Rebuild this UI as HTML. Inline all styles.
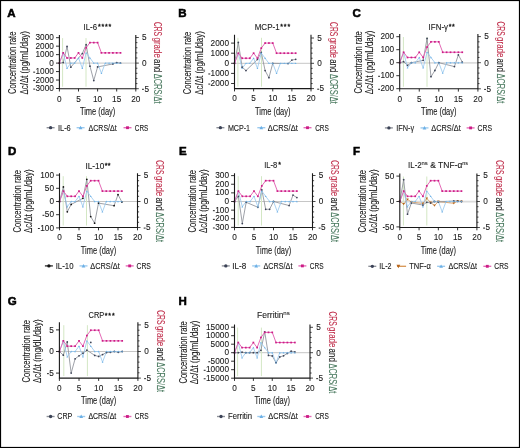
<!DOCTYPE html>
<html><head><meta charset="utf-8"><style>
html,body{margin:0;padding:0;background:#fff;}
body{width:520px;height:448px;overflow:hidden;}
svg{display:block;font-family:"Liberation Sans", sans-serif;will-change:transform;}
</style></head><body>
<svg width="520" height="448" viewBox="0 0 520 448">
<rect x="0" y="0" width="520" height="448" fill="#fff"/>
<g><text x="7.3" y="16.5" font-size="11.5" font-weight="bold" fill="#000" stroke="#000" stroke-width="0.55">A</text><line x1="59.4" y1="63.1" x2="135.8" y2="63.1" stroke="#c6c6c6" stroke-width="1.0"/><line x1="62.6" y1="38.1" x2="62.6" y2="86.7" stroke="#d3e7c4" stroke-width="1.0"/><line x1="86" y1="38.1" x2="86" y2="86.7" stroke="#d3e7c4" stroke-width="1.0"/><polyline points="59.4,63.1 63.22,62.59 67.04,46.5 70.86,67.17 82.32,53.53 86.14,44.64 89.96,66.15 93.78,80.55 97.6,66.91 112.88,63.95 116.7,62.59 120.52,63.1" fill="none" stroke="#8d9098" stroke-width="0.85" stroke-linejoin="round"/><polyline points="59.4,63.1 63.22,52.86 67.04,68.22 70.86,63.1 74.68,63.1 78.5,57.98 82.32,68.22 86.14,52.86 89.96,57.98 93.78,63.1 97.6,63.1 101.42,73.34 105.24,63.1 109.06,63.1 112.88,63.1 116.7,63.1 120.52,63.1" fill="none" stroke="#9ccaee" stroke-width="0.85" stroke-linejoin="round"/><polyline points="59.4,63.1 63.22,52.86 67.04,57.98 70.86,57.98 74.68,57.98 78.5,52.86 82.32,57.98 86.14,47.74 89.96,42.62 93.78,42.62 97.6,42.62 101.42,52.86 105.24,52.86 109.06,52.86 112.88,52.86 116.7,52.86 120.52,52.86" fill="none" stroke="#e46ab6" stroke-width="1" stroke-linejoin="round"/><circle cx="59.4" cy="63.1" r="0.88" fill="#3c4357"/><circle cx="63.22" cy="62.59" r="0.88" fill="#3c4357"/><circle cx="67.04" cy="46.5" r="0.88" fill="#3c4357"/><circle cx="70.86" cy="67.17" r="0.88" fill="#3c4357"/><circle cx="82.32" cy="53.53" r="0.88" fill="#3c4357"/><circle cx="86.14" cy="44.64" r="0.88" fill="#3c4357"/><circle cx="89.96" cy="66.15" r="0.88" fill="#3c4357"/><circle cx="93.78" cy="80.55" r="0.88" fill="#3c4357"/><circle cx="97.6" cy="66.91" r="0.88" fill="#3c4357"/><circle cx="112.88" cy="63.95" r="0.88" fill="#3c4357"/><circle cx="116.7" cy="62.59" r="0.88" fill="#3c4357"/><circle cx="120.52" cy="63.1" r="0.88" fill="#3c4357"/><path d="M59.4 62.23L60.27 63.8L58.52 63.8Z" fill="#6cb0e6"/><path d="M63.22 51.98L64.09 53.56L62.34 53.56Z" fill="#6cb0e6"/><path d="M67.04 67.34L67.91 68.92L66.16 68.92Z" fill="#6cb0e6"/><path d="M70.86 62.23L71.73 63.8L69.98 63.8Z" fill="#6cb0e6"/><path d="M74.68 62.23L75.56 63.8L73.81 63.8Z" fill="#6cb0e6"/><path d="M78.5 57.11L79.38 58.68L77.62 58.68Z" fill="#6cb0e6"/><path d="M82.32 67.34L83.19 68.92L81.44 68.92Z" fill="#6cb0e6"/><path d="M86.14 51.98L87.02 53.56L85.27 53.56Z" fill="#6cb0e6"/><path d="M89.96 57.11L90.84 58.68L89.09 58.68Z" fill="#6cb0e6"/><path d="M93.78 62.23L94.66 63.8L92.91 63.8Z" fill="#6cb0e6"/><path d="M97.6 62.23L98.47 63.8L96.72 63.8Z" fill="#6cb0e6"/><path d="M101.42 72.47L102.3 74.04L100.55 74.04Z" fill="#6cb0e6"/><path d="M105.24 62.23L106.12 63.8L104.37 63.8Z" fill="#6cb0e6"/><path d="M109.06 62.23L109.94 63.8L108.19 63.8Z" fill="#6cb0e6"/><path d="M112.88 62.23L113.75 63.8L112 63.8Z" fill="#6cb0e6"/><path d="M116.7 62.23L117.58 63.8L115.83 63.8Z" fill="#6cb0e6"/><path d="M120.52 62.23L121.4 63.8L119.65 63.8Z" fill="#6cb0e6"/><rect x="58.55" y="62.25" width="1.71" height="1.71" fill="#cc1c86"/><rect x="62.37" y="52.01" width="1.71" height="1.71" fill="#cc1c86"/><rect x="66.18" y="57.13" width="1.71" height="1.71" fill="#cc1c86"/><rect x="70" y="57.13" width="1.71" height="1.71" fill="#cc1c86"/><rect x="73.83" y="57.13" width="1.71" height="1.71" fill="#cc1c86"/><rect x="77.64" y="52.01" width="1.71" height="1.71" fill="#cc1c86"/><rect x="81.46" y="57.13" width="1.71" height="1.71" fill="#cc1c86"/><rect x="85.28" y="46.89" width="1.71" height="1.71" fill="#cc1c86"/><rect x="89.11" y="41.77" width="1.71" height="1.71" fill="#cc1c86"/><rect x="92.92" y="41.77" width="1.71" height="1.71" fill="#cc1c86"/><rect x="96.74" y="41.77" width="1.71" height="1.71" fill="#cc1c86"/><rect x="100.56" y="52.01" width="1.71" height="1.71" fill="#cc1c86"/><rect x="104.39" y="52.01" width="1.71" height="1.71" fill="#cc1c86"/><rect x="108.2" y="52.01" width="1.71" height="1.71" fill="#cc1c86"/><rect x="112.02" y="52.01" width="1.71" height="1.71" fill="#cc1c86"/><rect x="115.84" y="52.01" width="1.71" height="1.71" fill="#cc1c86"/><rect x="119.67" y="52.01" width="1.71" height="1.71" fill="#cc1c86"/><path d="M59.4 35.1V88.7H135.8V35.1" fill="none" stroke="#1a1a1a" stroke-width="1.1"/><line x1="56" y1="37.69" x2="59.4" y2="37.69" stroke="#1a1a1a" stroke-width="0.9"/><text x="53.9" y="40.29" font-size="9.5" text-anchor="end" textLength="18.38" lengthAdjust="spacingAndGlyphs" fill="#1a1a1a" stroke="#1a1a1a" stroke-width="0.1">3000</text><line x1="56" y1="46.16" x2="59.4" y2="46.16" stroke="#1a1a1a" stroke-width="0.9"/><text x="53.9" y="48.76" font-size="9.5" text-anchor="end" textLength="18.38" lengthAdjust="spacingAndGlyphs" fill="#1a1a1a" stroke="#1a1a1a" stroke-width="0.1">2000</text><line x1="56" y1="54.63" x2="59.4" y2="54.63" stroke="#1a1a1a" stroke-width="0.9"/><text x="53.9" y="57.23" font-size="9.5" text-anchor="end" textLength="18.38" lengthAdjust="spacingAndGlyphs" fill="#1a1a1a" stroke="#1a1a1a" stroke-width="0.1">1000</text><line x1="56" y1="63.1" x2="59.4" y2="63.1" stroke="#1a1a1a" stroke-width="0.9"/><text x="53.9" y="65.7" font-size="9.5" text-anchor="end" textLength="4.6" lengthAdjust="spacingAndGlyphs" fill="#1a1a1a" stroke="#1a1a1a" stroke-width="0.1">0</text><line x1="56" y1="71.57" x2="59.4" y2="71.57" stroke="#1a1a1a" stroke-width="0.9"/><text x="53.9" y="74.17" font-size="9.5" text-anchor="end" textLength="18.38" lengthAdjust="spacingAndGlyphs" fill="#1a1a1a" stroke="#1a1a1a" stroke-width="0.1">1000</text><rect x="33.22" y="71.67" width="1.9" height="0.95" fill="#1a1a1a"/><line x1="56" y1="80.04" x2="59.4" y2="80.04" stroke="#1a1a1a" stroke-width="0.9"/><text x="53.9" y="82.64" font-size="9.5" text-anchor="end" textLength="18.38" lengthAdjust="spacingAndGlyphs" fill="#1a1a1a" stroke="#1a1a1a" stroke-width="0.1">2000</text><rect x="33.22" y="80.14" width="1.9" height="0.95" fill="#1a1a1a"/><line x1="56" y1="88.51" x2="59.4" y2="88.51" stroke="#1a1a1a" stroke-width="0.9"/><text x="53.9" y="91.11" font-size="9.5" text-anchor="end" textLength="18.38" lengthAdjust="spacingAndGlyphs" fill="#1a1a1a" stroke="#1a1a1a" stroke-width="0.1">3000</text><rect x="33.22" y="88.61" width="1.9" height="0.95" fill="#1a1a1a"/><line x1="59.4" y1="88.7" x2="59.4" y2="91.5" stroke="#1a1a1a" stroke-width="0.9"/><text x="59.4" y="101.5" font-size="9.5" text-anchor="middle" textLength="4.6" lengthAdjust="spacingAndGlyphs" fill="#1a1a1a" stroke="#1a1a1a" stroke-width="0.1">0</text><line x1="78.5" y1="88.7" x2="78.5" y2="91.5" stroke="#1a1a1a" stroke-width="0.9"/><text x="78.5" y="101.5" font-size="9.5" text-anchor="middle" textLength="4.6" lengthAdjust="spacingAndGlyphs" fill="#1a1a1a" stroke="#1a1a1a" stroke-width="0.1">5</text><line x1="97.6" y1="88.7" x2="97.6" y2="91.5" stroke="#1a1a1a" stroke-width="0.9"/><text x="97.6" y="101.5" font-size="9.5" text-anchor="middle" textLength="9.19" lengthAdjust="spacingAndGlyphs" fill="#1a1a1a" stroke="#1a1a1a" stroke-width="0.1">10</text><line x1="116.7" y1="88.7" x2="116.7" y2="91.5" stroke="#1a1a1a" stroke-width="0.9"/><text x="116.7" y="101.5" font-size="9.5" text-anchor="middle" textLength="9.19" lengthAdjust="spacingAndGlyphs" fill="#1a1a1a" stroke="#1a1a1a" stroke-width="0.1">15</text><line x1="135.8" y1="88.7" x2="135.8" y2="91.5" stroke="#1a1a1a" stroke-width="0.9"/><text x="135.8" y="101.5" font-size="9.5" text-anchor="middle" textLength="9.19" lengthAdjust="spacingAndGlyphs" fill="#1a1a1a" stroke="#1a1a1a" stroke-width="0.1">20</text><line x1="135.8" y1="88.7" x2="138.8" y2="88.7" stroke="#1a1a1a" stroke-width="0.8"/><rect x="142" y="88.8" width="1.9" height="0.95" fill="#1a1a1a"/><text x="144.4" y="91.5" font-size="9.5" textLength="4.6" lengthAdjust="spacingAndGlyphs" fill="#1a1a1a" stroke="#1a1a1a" stroke-width="0.1">5</text><line x1="135.8" y1="83.58" x2="137.4" y2="83.58" stroke="#1a1a1a" stroke-width="0.8"/><line x1="135.8" y1="78.46" x2="137.4" y2="78.46" stroke="#1a1a1a" stroke-width="0.8"/><line x1="135.8" y1="73.34" x2="137.4" y2="73.34" stroke="#1a1a1a" stroke-width="0.8"/><line x1="135.8" y1="68.22" x2="137.4" y2="68.22" stroke="#1a1a1a" stroke-width="0.8"/><line x1="135.8" y1="63.1" x2="138.8" y2="63.1" stroke="#1a1a1a" stroke-width="0.8"/><text x="142.1" y="65.9" font-size="9.5" textLength="4.6" lengthAdjust="spacingAndGlyphs" fill="#1a1a1a" stroke="#1a1a1a" stroke-width="0.1">0</text><line x1="135.8" y1="57.98" x2="137.4" y2="57.98" stroke="#1a1a1a" stroke-width="0.8"/><line x1="135.8" y1="52.86" x2="137.4" y2="52.86" stroke="#1a1a1a" stroke-width="0.8"/><line x1="135.8" y1="47.74" x2="137.4" y2="47.74" stroke="#1a1a1a" stroke-width="0.8"/><line x1="135.8" y1="42.62" x2="137.4" y2="42.62" stroke="#1a1a1a" stroke-width="0.8"/><line x1="135.8" y1="37.5" x2="138.8" y2="37.5" stroke="#1a1a1a" stroke-width="0.8"/><text x="142.1" y="40.3" font-size="9.5" textLength="4.6" lengthAdjust="spacingAndGlyphs" fill="#1a1a1a" stroke="#1a1a1a" stroke-width="0.1">5</text><text x="97.6" y="115" font-size="10.6" text-anchor="middle" textLength="35.4" lengthAdjust="spacingAndGlyphs" fill="#1a1a1a" stroke="#1a1a1a" stroke-width="0.1">Time (day)</text><text x="83.5" y="29.7" font-size="8.8" textLength="13.5" lengthAdjust="spacingAndGlyphs" fill="#1a1a1a" stroke="#1a1a1a" stroke-width="0.1">IL-6</text><text x="99.25" y="29.25" font-size="7" text-anchor="middle" fill="#1a1a1a" stroke="#1a1a1a" stroke-width="0.35">*</text><text x="102.75" y="29.25" font-size="7" text-anchor="middle" fill="#1a1a1a" stroke="#1a1a1a" stroke-width="0.35">*</text><text x="106.25" y="29.25" font-size="7" text-anchor="middle" fill="#1a1a1a" stroke="#1a1a1a" stroke-width="0.35">*</text><text x="109.75" y="29.25" font-size="7" text-anchor="middle" fill="#1a1a1a" stroke="#1a1a1a" stroke-width="0.35">*</text><text transform="translate(15.9,62.8) rotate(-90)" x="0" y="0" font-size="10" text-anchor="middle" fill="#1a1a1a" stroke="#1a1a1a" stroke-width="0.1" textLength="62.4" lengthAdjust="spacingAndGlyphs">Concentration rate</text><text transform="translate(27.8,62.8) rotate(-90)" x="0" y="0" font-size="10" text-anchor="middle" fill="#1a1a1a" stroke="#1a1a1a" stroke-width="0.1" textLength="63.6" lengthAdjust="spacingAndGlyphs">Δc/Δt (pg/mL/day)</text><text transform="translate(154.4,21.9) rotate(90)" x="0" y="0" font-size="10" fill="#c2334f" stroke="#c2334f" stroke-width="0.1" textLength="14.1" lengthAdjust="spacingAndGlyphs">CRS</text><text transform="translate(154.4,37.5) rotate(90)" x="0" y="0" font-size="10" fill="#c2334f" stroke="#c2334f" stroke-width="0.1" textLength="20.3" lengthAdjust="spacingAndGlyphs">grade</text><text transform="translate(154.4,59) rotate(90)" x="0" y="0" font-size="10" fill="#1a1a1a" stroke="#1a1a1a" stroke-width="0.1" textLength="13.2" lengthAdjust="spacingAndGlyphs">and</text><text transform="translate(154.4,73.8) rotate(90)" x="0" y="0" font-size="10" fill="#4d7c62" stroke="#4d7c62" stroke-width="0.1" textLength="29.85" lengthAdjust="spacingAndGlyphs">ΔCRS/Δt</text><line x1="46.6" y1="127.7" x2="54.6" y2="127.7" stroke="#8d9098" stroke-width="1.35"/><circle cx="50.6" cy="127.7" r="1.67" fill="#3c4357"/><text x="57.9" y="130.6" font-size="8.4" textLength="12.9" lengthAdjust="spacingAndGlyphs" fill="#1a1a1a" stroke="#1a1a1a" stroke-width="0.1">IL-6</text><line x1="76.6" y1="127.7" x2="84.6" y2="127.7" stroke="#9ccaee" stroke-width="1.35"/><path d="M80.6 125.83L82.47 129.2L78.72 129.2Z" fill="#6cb0e6"/><text x="88.5" y="130.6" font-size="8.4" textLength="28.2" lengthAdjust="spacingAndGlyphs" fill="#1a1a1a" stroke="#1a1a1a" stroke-width="0.1">ΔCRS/Δt</text><line x1="123.5" y1="127.7" x2="131.5" y2="127.7" stroke="#e46ab6" stroke-width="1.35"/><rect x="126.08" y="126.28" width="2.85" height="2.85" fill="#cc1c86"/><text x="134.8" y="130.6" font-size="8.4" textLength="13.5" lengthAdjust="spacingAndGlyphs" fill="#1a1a1a" stroke="#1a1a1a" stroke-width="0.1">CRS</text></g>
<g><text x="178.3" y="16.8" font-size="11.5" font-weight="bold" fill="#000" stroke="#000" stroke-width="0.55">B</text><line x1="234.5" y1="63.3" x2="311" y2="63.3" stroke="#c6c6c6" stroke-width="1.0"/><line x1="237.9" y1="37.8" x2="237.9" y2="86.6" stroke="#d3e7c4" stroke-width="1.0"/><line x1="261.5" y1="37.8" x2="261.5" y2="86.6" stroke="#d3e7c4" stroke-width="1.0"/><polyline points="234.5,63.3 238.32,42.49 242.15,67.14 245.97,70.57 257.45,59.46 261.27,52.39 265.1,70.57 268.93,77.74 272.75,63.3 288.05,63.6 291.88,60.07 295.7,59.36" fill="none" stroke="#8d9098" stroke-width="0.85" stroke-linejoin="round"/><polyline points="234.5,63.3 238.32,53.18 242.15,68.36 245.97,63.3 249.8,63.3 253.62,58.24 257.45,68.36 261.27,53.18 265.1,58.24 268.93,63.3 272.75,63.3 276.57,73.42 280.4,63.3 284.23,63.3 288.05,63.3 291.88,63.3 295.7,63.3" fill="none" stroke="#9ccaee" stroke-width="0.85" stroke-linejoin="round"/><polyline points="234.5,63.3 238.32,53.18 242.15,58.24 245.97,58.24 249.8,58.24 253.62,53.18 257.45,58.24 261.27,48.12 265.1,43.06 268.93,43.06 272.75,43.06 276.57,53.18 280.4,53.18 284.23,53.18 288.05,53.18 291.88,53.18 295.7,53.18" fill="none" stroke="#e46ab6" stroke-width="1" stroke-linejoin="round"/><circle cx="234.5" cy="63.3" r="0.88" fill="#3c4357"/><circle cx="238.32" cy="42.49" r="0.88" fill="#3c4357"/><circle cx="242.15" cy="67.14" r="0.88" fill="#3c4357"/><circle cx="245.97" cy="70.57" r="0.88" fill="#3c4357"/><circle cx="257.45" cy="59.46" r="0.88" fill="#3c4357"/><circle cx="261.27" cy="52.39" r="0.88" fill="#3c4357"/><circle cx="265.1" cy="70.57" r="0.88" fill="#3c4357"/><circle cx="268.93" cy="77.74" r="0.88" fill="#3c4357"/><circle cx="272.75" cy="63.3" r="0.88" fill="#3c4357"/><circle cx="288.05" cy="63.6" r="0.88" fill="#3c4357"/><circle cx="291.88" cy="60.07" r="0.88" fill="#3c4357"/><circle cx="295.7" cy="59.36" r="0.88" fill="#3c4357"/><path d="M234.5 62.42L235.38 64L233.62 64Z" fill="#6cb0e6"/><path d="M238.32 52.3L239.2 53.88L237.45 53.88Z" fill="#6cb0e6"/><path d="M242.15 67.48L243.03 69.06L241.28 69.06Z" fill="#6cb0e6"/><path d="M245.97 62.42L246.85 64L245.1 64Z" fill="#6cb0e6"/><path d="M249.8 62.42L250.68 64L248.93 64Z" fill="#6cb0e6"/><path d="M253.62 57.36L254.5 58.94L252.75 58.94Z" fill="#6cb0e6"/><path d="M257.45 67.48L258.32 69.06L256.57 69.06Z" fill="#6cb0e6"/><path d="M261.27 52.3L262.15 53.88L260.4 53.88Z" fill="#6cb0e6"/><path d="M265.1 57.36L265.98 58.94L264.23 58.94Z" fill="#6cb0e6"/><path d="M268.93 62.42L269.8 64L268.05 64Z" fill="#6cb0e6"/><path d="M272.75 62.42L273.62 64L271.88 64Z" fill="#6cb0e6"/><path d="M276.57 72.55L277.45 74.12L275.7 74.12Z" fill="#6cb0e6"/><path d="M280.4 62.42L281.27 64L279.52 64Z" fill="#6cb0e6"/><path d="M284.23 62.42L285.1 64L283.35 64Z" fill="#6cb0e6"/><path d="M288.05 62.42L288.93 64L287.18 64Z" fill="#6cb0e6"/><path d="M291.88 62.42L292.75 64L291 64Z" fill="#6cb0e6"/><path d="M295.7 62.42L296.57 64L294.82 64Z" fill="#6cb0e6"/><rect x="233.65" y="62.45" width="1.71" height="1.71" fill="#cc1c86"/><rect x="237.47" y="52.33" width="1.71" height="1.71" fill="#cc1c86"/><rect x="241.3" y="57.38" width="1.71" height="1.71" fill="#cc1c86"/><rect x="245.12" y="57.38" width="1.71" height="1.71" fill="#cc1c86"/><rect x="248.95" y="57.38" width="1.71" height="1.71" fill="#cc1c86"/><rect x="252.77" y="52.33" width="1.71" height="1.71" fill="#cc1c86"/><rect x="256.59" y="57.38" width="1.71" height="1.71" fill="#cc1c86"/><rect x="260.42" y="47.27" width="1.71" height="1.71" fill="#cc1c86"/><rect x="264.25" y="42.21" width="1.71" height="1.71" fill="#cc1c86"/><rect x="268.07" y="42.21" width="1.71" height="1.71" fill="#cc1c86"/><rect x="271.89" y="42.21" width="1.71" height="1.71" fill="#cc1c86"/><rect x="275.72" y="52.33" width="1.71" height="1.71" fill="#cc1c86"/><rect x="279.54" y="52.33" width="1.71" height="1.71" fill="#cc1c86"/><rect x="283.37" y="52.33" width="1.71" height="1.71" fill="#cc1c86"/><rect x="287.19" y="52.33" width="1.71" height="1.71" fill="#cc1c86"/><rect x="291.02" y="52.33" width="1.71" height="1.71" fill="#cc1c86"/><rect x="294.84" y="52.33" width="1.71" height="1.71" fill="#cc1c86"/><path d="M234.5 34.8V88.6H311V34.8" fill="none" stroke="#1a1a1a" stroke-width="1.1"/><line x1="231.1" y1="43.1" x2="234.5" y2="43.1" stroke="#1a1a1a" stroke-width="0.9"/><text x="229" y="45.7" font-size="9.5" text-anchor="end" textLength="18.38" lengthAdjust="spacingAndGlyphs" fill="#1a1a1a" stroke="#1a1a1a" stroke-width="0.1">2000</text><line x1="231.1" y1="53.2" x2="234.5" y2="53.2" stroke="#1a1a1a" stroke-width="0.9"/><text x="229" y="55.8" font-size="9.5" text-anchor="end" textLength="18.38" lengthAdjust="spacingAndGlyphs" fill="#1a1a1a" stroke="#1a1a1a" stroke-width="0.1">1000</text><line x1="231.1" y1="63.3" x2="234.5" y2="63.3" stroke="#1a1a1a" stroke-width="0.9"/><text x="229" y="65.9" font-size="9.5" text-anchor="end" textLength="4.6" lengthAdjust="spacingAndGlyphs" fill="#1a1a1a" stroke="#1a1a1a" stroke-width="0.1">0</text><line x1="231.1" y1="73.4" x2="234.5" y2="73.4" stroke="#1a1a1a" stroke-width="0.9"/><text x="229" y="76" font-size="9.5" text-anchor="end" textLength="18.38" lengthAdjust="spacingAndGlyphs" fill="#1a1a1a" stroke="#1a1a1a" stroke-width="0.1">1000</text><rect x="208.32" y="73.5" width="1.9" height="0.95" fill="#1a1a1a"/><line x1="231.1" y1="83.5" x2="234.5" y2="83.5" stroke="#1a1a1a" stroke-width="0.9"/><text x="229" y="86.1" font-size="9.5" text-anchor="end" textLength="18.38" lengthAdjust="spacingAndGlyphs" fill="#1a1a1a" stroke="#1a1a1a" stroke-width="0.1">2000</text><rect x="208.32" y="83.6" width="1.9" height="0.95" fill="#1a1a1a"/><line x1="234.5" y1="88.6" x2="234.5" y2="91.4" stroke="#1a1a1a" stroke-width="0.9"/><text x="234.5" y="101.4" font-size="9.5" text-anchor="middle" textLength="4.6" lengthAdjust="spacingAndGlyphs" fill="#1a1a1a" stroke="#1a1a1a" stroke-width="0.1">0</text><line x1="253.62" y1="88.6" x2="253.62" y2="91.4" stroke="#1a1a1a" stroke-width="0.9"/><text x="253.62" y="101.4" font-size="9.5" text-anchor="middle" textLength="4.6" lengthAdjust="spacingAndGlyphs" fill="#1a1a1a" stroke="#1a1a1a" stroke-width="0.1">5</text><line x1="272.75" y1="88.6" x2="272.75" y2="91.4" stroke="#1a1a1a" stroke-width="0.9"/><text x="272.75" y="101.4" font-size="9.5" text-anchor="middle" textLength="9.19" lengthAdjust="spacingAndGlyphs" fill="#1a1a1a" stroke="#1a1a1a" stroke-width="0.1">10</text><line x1="291.88" y1="88.6" x2="291.88" y2="91.4" stroke="#1a1a1a" stroke-width="0.9"/><text x="291.88" y="101.4" font-size="9.5" text-anchor="middle" textLength="9.19" lengthAdjust="spacingAndGlyphs" fill="#1a1a1a" stroke="#1a1a1a" stroke-width="0.1">15</text><line x1="311" y1="88.6" x2="311" y2="91.4" stroke="#1a1a1a" stroke-width="0.9"/><text x="311" y="101.4" font-size="9.5" text-anchor="middle" textLength="9.19" lengthAdjust="spacingAndGlyphs" fill="#1a1a1a" stroke="#1a1a1a" stroke-width="0.1">20</text><line x1="311" y1="88.6" x2="314" y2="88.6" stroke="#1a1a1a" stroke-width="0.8"/><rect x="317.2" y="88.7" width="1.9" height="0.95" fill="#1a1a1a"/><text x="319.6" y="91.4" font-size="9.5" textLength="4.6" lengthAdjust="spacingAndGlyphs" fill="#1a1a1a" stroke="#1a1a1a" stroke-width="0.1">5</text><line x1="311" y1="83.54" x2="312.6" y2="83.54" stroke="#1a1a1a" stroke-width="0.8"/><line x1="311" y1="78.48" x2="312.6" y2="78.48" stroke="#1a1a1a" stroke-width="0.8"/><line x1="311" y1="73.42" x2="312.6" y2="73.42" stroke="#1a1a1a" stroke-width="0.8"/><line x1="311" y1="68.36" x2="312.6" y2="68.36" stroke="#1a1a1a" stroke-width="0.8"/><line x1="311" y1="63.3" x2="314" y2="63.3" stroke="#1a1a1a" stroke-width="0.8"/><text x="317.3" y="66.1" font-size="9.5" textLength="4.6" lengthAdjust="spacingAndGlyphs" fill="#1a1a1a" stroke="#1a1a1a" stroke-width="0.1">0</text><line x1="311" y1="58.24" x2="312.6" y2="58.24" stroke="#1a1a1a" stroke-width="0.8"/><line x1="311" y1="53.18" x2="312.6" y2="53.18" stroke="#1a1a1a" stroke-width="0.8"/><line x1="311" y1="48.12" x2="312.6" y2="48.12" stroke="#1a1a1a" stroke-width="0.8"/><line x1="311" y1="43.06" x2="312.6" y2="43.06" stroke="#1a1a1a" stroke-width="0.8"/><line x1="311" y1="38" x2="314" y2="38" stroke="#1a1a1a" stroke-width="0.8"/><text x="317.3" y="40.8" font-size="9.5" textLength="4.6" lengthAdjust="spacingAndGlyphs" fill="#1a1a1a" stroke="#1a1a1a" stroke-width="0.1">5</text><text x="272.75" y="114.9" font-size="10.6" text-anchor="middle" textLength="35.4" lengthAdjust="spacingAndGlyphs" fill="#1a1a1a" stroke="#1a1a1a" stroke-width="0.1">Time (day)</text><text x="254.7" y="29.7" font-size="8.8" textLength="24.9" lengthAdjust="spacingAndGlyphs" fill="#1a1a1a" stroke="#1a1a1a" stroke-width="0.1">MCP-1</text><text x="281.55" y="29.25" font-size="7" text-anchor="middle" fill="#1a1a1a" stroke="#1a1a1a" stroke-width="0.35">*</text><text x="285.15" y="29.25" font-size="7" text-anchor="middle" fill="#1a1a1a" stroke="#1a1a1a" stroke-width="0.35">*</text><text x="288.75" y="29.25" font-size="7" text-anchor="middle" fill="#1a1a1a" stroke="#1a1a1a" stroke-width="0.35">*</text><text transform="translate(190.9,63) rotate(-90)" x="0" y="0" font-size="10" text-anchor="middle" fill="#1a1a1a" stroke="#1a1a1a" stroke-width="0.1" textLength="62.4" lengthAdjust="spacingAndGlyphs">Concentration rate</text><text transform="translate(202.8,63) rotate(-90)" x="0" y="0" font-size="10" text-anchor="middle" fill="#1a1a1a" stroke="#1a1a1a" stroke-width="0.1" textLength="63.6" lengthAdjust="spacingAndGlyphs">Δc/Δt (pg/mL/day)</text><text transform="translate(329.6,22.1) rotate(90)" x="0" y="0" font-size="10" fill="#c2334f" stroke="#c2334f" stroke-width="0.1" textLength="14.1" lengthAdjust="spacingAndGlyphs">CRS</text><text transform="translate(329.6,37.7) rotate(90)" x="0" y="0" font-size="10" fill="#c2334f" stroke="#c2334f" stroke-width="0.1" textLength="20.3" lengthAdjust="spacingAndGlyphs">grade</text><text transform="translate(329.6,59.2) rotate(90)" x="0" y="0" font-size="10" fill="#1a1a1a" stroke="#1a1a1a" stroke-width="0.1" textLength="13.2" lengthAdjust="spacingAndGlyphs">and</text><text transform="translate(329.6,74) rotate(90)" x="0" y="0" font-size="10" fill="#4d7c62" stroke="#4d7c62" stroke-width="0.1" textLength="29.85" lengthAdjust="spacingAndGlyphs">ΔCRS/Δt</text><line x1="216.4" y1="127.7" x2="224.4" y2="127.7" stroke="#8d9098" stroke-width="1.35"/><circle cx="220.4" cy="127.7" r="1.67" fill="#3c4357"/><text x="227.9" y="130.6" font-size="8.4" textLength="22.2" lengthAdjust="spacingAndGlyphs" fill="#1a1a1a" stroke="#1a1a1a" stroke-width="0.1">MCP-1</text><line x1="257.3" y1="127.7" x2="265.3" y2="127.7" stroke="#9ccaee" stroke-width="1.35"/><path d="M261.3 125.83L263.18 129.2L259.43 129.2Z" fill="#6cb0e6"/><text x="267.7" y="130.6" font-size="8.4" textLength="30.1" lengthAdjust="spacingAndGlyphs" fill="#1a1a1a" stroke="#1a1a1a" stroke-width="0.1">ΔCRS/Δt</text><line x1="303.5" y1="127.7" x2="311.5" y2="127.7" stroke="#e46ab6" stroke-width="1.35"/><rect x="306.07" y="126.28" width="2.85" height="2.85" fill="#cc1c86"/><text x="315.2" y="130.6" font-size="8.4" textLength="13.7" lengthAdjust="spacingAndGlyphs" fill="#1a1a1a" stroke="#1a1a1a" stroke-width="0.1">CRS</text></g>
<g><text x="352.4" y="16.8" font-size="11.5" font-weight="bold" fill="#000" stroke="#000" stroke-width="0.55">C</text><line x1="399.7" y1="62.9" x2="477.9" y2="62.9" stroke="#dcdcdc" stroke-width="1.8"/><line x1="403.4" y1="37" x2="403.4" y2="86.8" stroke="#d3e7c4" stroke-width="1.0"/><line x1="427" y1="37" x2="427" y2="86.8" stroke="#d3e7c4" stroke-width="1.0"/><polyline points="399.7,62.7 403.61,61.66 407.52,65.3 411.43,62.7 423.16,60.36 427.07,38.39 430.98,76.74 434.89,70.5 438.8,62.7 454.44,66.6 458.35,54.9 462.26,62.05" fill="none" stroke="#8d9098" stroke-width="0.85" stroke-linejoin="round"/><polyline points="399.7,62.7 403.61,52.26 407.52,67.92 411.43,62.7 415.34,62.7 419.25,57.48 423.16,67.92 427.07,52.26 430.98,57.48 434.89,62.7 438.8,62.7 442.71,73.14 446.62,62.7 450.53,62.7 454.44,62.7 458.35,62.7 462.26,62.7" fill="none" stroke="#9ccaee" stroke-width="0.85" stroke-linejoin="round"/><polyline points="399.7,62.7 403.61,52.26 407.52,57.48 411.43,57.48 415.34,57.48 419.25,52.26 423.16,57.48 427.07,47.04 430.98,41.82 434.89,41.82 438.8,41.82 442.71,52.26 446.62,52.26 450.53,52.26 454.44,52.26 458.35,52.26 462.26,52.26" fill="none" stroke="#e46ab6" stroke-width="1" stroke-linejoin="round"/><circle cx="399.7" cy="62.7" r="0.88" fill="#3c4357"/><circle cx="403.61" cy="61.66" r="0.88" fill="#3c4357"/><circle cx="407.52" cy="65.3" r="0.88" fill="#3c4357"/><circle cx="411.43" cy="62.7" r="0.88" fill="#3c4357"/><circle cx="423.16" cy="60.36" r="0.88" fill="#3c4357"/><circle cx="427.07" cy="38.39" r="0.88" fill="#3c4357"/><circle cx="430.98" cy="76.74" r="0.88" fill="#3c4357"/><circle cx="434.89" cy="70.5" r="0.88" fill="#3c4357"/><circle cx="438.8" cy="62.7" r="0.88" fill="#3c4357"/><circle cx="454.44" cy="66.6" r="0.88" fill="#3c4357"/><circle cx="458.35" cy="54.9" r="0.88" fill="#3c4357"/><circle cx="462.26" cy="62.05" r="0.88" fill="#3c4357"/><path d="M399.7 61.83L400.57 63.4L398.82 63.4Z" fill="#6cb0e6"/><path d="M403.61 51.39L404.49 52.96L402.74 52.96Z" fill="#6cb0e6"/><path d="M407.52 67.05L408.39 68.62L406.64 68.62Z" fill="#6cb0e6"/><path d="M411.43 61.83L412.31 63.4L410.56 63.4Z" fill="#6cb0e6"/><path d="M415.34 61.83L416.21 63.4L414.46 63.4Z" fill="#6cb0e6"/><path d="M419.25 56.61L420.12 58.18L418.38 58.18Z" fill="#6cb0e6"/><path d="M423.16 67.05L424.03 68.62L422.28 68.62Z" fill="#6cb0e6"/><path d="M427.07 51.39L427.94 52.96L426.19 52.96Z" fill="#6cb0e6"/><path d="M430.98 56.61L431.85 58.18L430.1 58.18Z" fill="#6cb0e6"/><path d="M434.89 61.83L435.76 63.4L434.01 63.4Z" fill="#6cb0e6"/><path d="M438.8 61.83L439.67 63.4L437.92 63.4Z" fill="#6cb0e6"/><path d="M442.71 72.27L443.58 73.84L441.83 73.84Z" fill="#6cb0e6"/><path d="M446.62 61.83L447.5 63.4L445.75 63.4Z" fill="#6cb0e6"/><path d="M450.53 61.83L451.4 63.4L449.65 63.4Z" fill="#6cb0e6"/><path d="M454.44 61.83L455.31 63.4L453.56 63.4Z" fill="#6cb0e6"/><path d="M458.35 61.83L459.22 63.4L457.47 63.4Z" fill="#6cb0e6"/><path d="M462.26 61.83L463.13 63.4L461.38 63.4Z" fill="#6cb0e6"/><rect x="398.84" y="61.85" width="1.71" height="1.71" fill="#cc1c86"/><rect x="402.75" y="51.41" width="1.71" height="1.71" fill="#cc1c86"/><rect x="406.66" y="56.63" width="1.71" height="1.71" fill="#cc1c86"/><rect x="410.57" y="56.63" width="1.71" height="1.71" fill="#cc1c86"/><rect x="414.48" y="56.63" width="1.71" height="1.71" fill="#cc1c86"/><rect x="418.39" y="51.41" width="1.71" height="1.71" fill="#cc1c86"/><rect x="422.3" y="56.63" width="1.71" height="1.71" fill="#cc1c86"/><rect x="426.21" y="46.19" width="1.71" height="1.71" fill="#cc1c86"/><rect x="430.12" y="40.97" width="1.71" height="1.71" fill="#cc1c86"/><rect x="434.03" y="40.97" width="1.71" height="1.71" fill="#cc1c86"/><rect x="437.94" y="40.97" width="1.71" height="1.71" fill="#cc1c86"/><rect x="441.85" y="51.41" width="1.71" height="1.71" fill="#cc1c86"/><rect x="445.76" y="51.41" width="1.71" height="1.71" fill="#cc1c86"/><rect x="449.67" y="51.41" width="1.71" height="1.71" fill="#cc1c86"/><rect x="453.58" y="51.41" width="1.71" height="1.71" fill="#cc1c86"/><rect x="457.49" y="51.41" width="1.71" height="1.71" fill="#cc1c86"/><rect x="461.4" y="51.41" width="1.71" height="1.71" fill="#cc1c86"/><path d="M399.7 34V88.8H477.9V34" fill="none" stroke="#1a1a1a" stroke-width="1.1"/><line x1="396.3" y1="36.7" x2="399.7" y2="36.7" stroke="#1a1a1a" stroke-width="0.9"/><text x="394.2" y="39.3" font-size="9.5" text-anchor="end" textLength="13.79" lengthAdjust="spacingAndGlyphs" fill="#1a1a1a" stroke="#1a1a1a" stroke-width="0.1">200</text><line x1="396.3" y1="49.7" x2="399.7" y2="49.7" stroke="#1a1a1a" stroke-width="0.9"/><text x="394.2" y="52.3" font-size="9.5" text-anchor="end" textLength="13.79" lengthAdjust="spacingAndGlyphs" fill="#1a1a1a" stroke="#1a1a1a" stroke-width="0.1">100</text><line x1="396.3" y1="62.7" x2="399.7" y2="62.7" stroke="#1a1a1a" stroke-width="0.9"/><text x="394.2" y="65.3" font-size="9.5" text-anchor="end" textLength="4.6" lengthAdjust="spacingAndGlyphs" fill="#1a1a1a" stroke="#1a1a1a" stroke-width="0.1">0</text><line x1="396.3" y1="75.7" x2="399.7" y2="75.7" stroke="#1a1a1a" stroke-width="0.9"/><text x="394.2" y="78.3" font-size="9.5" text-anchor="end" textLength="13.79" lengthAdjust="spacingAndGlyphs" fill="#1a1a1a" stroke="#1a1a1a" stroke-width="0.1">100</text><rect x="378.11" y="75.8" width="1.9" height="0.95" fill="#1a1a1a"/><line x1="396.3" y1="88.7" x2="399.7" y2="88.7" stroke="#1a1a1a" stroke-width="0.9"/><text x="394.2" y="91.3" font-size="9.5" text-anchor="end" textLength="13.79" lengthAdjust="spacingAndGlyphs" fill="#1a1a1a" stroke="#1a1a1a" stroke-width="0.1">200</text><rect x="378.11" y="88.8" width="1.9" height="0.95" fill="#1a1a1a"/><line x1="399.7" y1="88.8" x2="399.7" y2="91.6" stroke="#1a1a1a" stroke-width="0.9"/><text x="399.7" y="101.6" font-size="9.5" text-anchor="middle" textLength="4.6" lengthAdjust="spacingAndGlyphs" fill="#1a1a1a" stroke="#1a1a1a" stroke-width="0.1">0</text><line x1="419.25" y1="88.8" x2="419.25" y2="91.6" stroke="#1a1a1a" stroke-width="0.9"/><text x="419.25" y="101.6" font-size="9.5" text-anchor="middle" textLength="4.6" lengthAdjust="spacingAndGlyphs" fill="#1a1a1a" stroke="#1a1a1a" stroke-width="0.1">5</text><line x1="438.8" y1="88.8" x2="438.8" y2="91.6" stroke="#1a1a1a" stroke-width="0.9"/><text x="438.8" y="101.6" font-size="9.5" text-anchor="middle" textLength="9.19" lengthAdjust="spacingAndGlyphs" fill="#1a1a1a" stroke="#1a1a1a" stroke-width="0.1">10</text><line x1="458.35" y1="88.8" x2="458.35" y2="91.6" stroke="#1a1a1a" stroke-width="0.9"/><text x="458.35" y="101.6" font-size="9.5" text-anchor="middle" textLength="9.19" lengthAdjust="spacingAndGlyphs" fill="#1a1a1a" stroke="#1a1a1a" stroke-width="0.1">15</text><line x1="477.9" y1="88.8" x2="477.9" y2="91.6" stroke="#1a1a1a" stroke-width="0.9"/><text x="477.9" y="101.6" font-size="9.5" text-anchor="middle" textLength="9.19" lengthAdjust="spacingAndGlyphs" fill="#1a1a1a" stroke="#1a1a1a" stroke-width="0.1">20</text><line x1="477.9" y1="88.8" x2="480.9" y2="88.8" stroke="#1a1a1a" stroke-width="0.8"/><rect x="484.1" y="88.9" width="1.9" height="0.95" fill="#1a1a1a"/><text x="486.5" y="91.6" font-size="9.5" textLength="4.6" lengthAdjust="spacingAndGlyphs" fill="#1a1a1a" stroke="#1a1a1a" stroke-width="0.1">5</text><line x1="477.9" y1="83.58" x2="479.5" y2="83.58" stroke="#1a1a1a" stroke-width="0.8"/><line x1="477.9" y1="78.36" x2="479.5" y2="78.36" stroke="#1a1a1a" stroke-width="0.8"/><line x1="477.9" y1="73.14" x2="479.5" y2="73.14" stroke="#1a1a1a" stroke-width="0.8"/><line x1="477.9" y1="67.92" x2="479.5" y2="67.92" stroke="#1a1a1a" stroke-width="0.8"/><line x1="477.9" y1="62.7" x2="480.9" y2="62.7" stroke="#1a1a1a" stroke-width="0.8"/><text x="484.2" y="65.5" font-size="9.5" textLength="4.6" lengthAdjust="spacingAndGlyphs" fill="#1a1a1a" stroke="#1a1a1a" stroke-width="0.1">0</text><line x1="477.9" y1="57.48" x2="479.5" y2="57.48" stroke="#1a1a1a" stroke-width="0.8"/><line x1="477.9" y1="52.26" x2="479.5" y2="52.26" stroke="#1a1a1a" stroke-width="0.8"/><line x1="477.9" y1="47.04" x2="479.5" y2="47.04" stroke="#1a1a1a" stroke-width="0.8"/><line x1="477.9" y1="41.82" x2="479.5" y2="41.82" stroke="#1a1a1a" stroke-width="0.8"/><line x1="477.9" y1="36.6" x2="480.9" y2="36.6" stroke="#1a1a1a" stroke-width="0.8"/><text x="484.2" y="39.4" font-size="9.5" textLength="4.6" lengthAdjust="spacingAndGlyphs" fill="#1a1a1a" stroke="#1a1a1a" stroke-width="0.1">5</text><text x="438.8" y="115.1" font-size="10.6" text-anchor="middle" textLength="35.4" lengthAdjust="spacingAndGlyphs" fill="#1a1a1a" stroke="#1a1a1a" stroke-width="0.1">Time (day)</text><text x="428.6" y="29.8" font-size="8.8" textLength="19.4" lengthAdjust="spacingAndGlyphs" fill="#1a1a1a" stroke="#1a1a1a" stroke-width="0.1">IFN-γ</text><text x="450.05" y="29.15" font-size="7" text-anchor="middle" fill="#1a1a1a" stroke="#1a1a1a" stroke-width="0.35">*</text><text x="453.35" y="29.15" font-size="7" text-anchor="middle" fill="#1a1a1a" stroke="#1a1a1a" stroke-width="0.35">*</text><text transform="translate(361.6,62.4) rotate(-90)" x="0" y="0" font-size="10" text-anchor="middle" fill="#1a1a1a" stroke="#1a1a1a" stroke-width="0.1" textLength="62.4" lengthAdjust="spacingAndGlyphs">Concentration rate</text><text transform="translate(372.8,62.4) rotate(-90)" x="0" y="0" font-size="10" text-anchor="middle" fill="#1a1a1a" stroke="#1a1a1a" stroke-width="0.1" textLength="63.6" lengthAdjust="spacingAndGlyphs">Δc/Δt (pg/mL/day)</text><text transform="translate(496.5,21.5) rotate(90)" x="0" y="0" font-size="10" fill="#c2334f" stroke="#c2334f" stroke-width="0.1" textLength="14.1" lengthAdjust="spacingAndGlyphs">CRS</text><text transform="translate(496.5,37.1) rotate(90)" x="0" y="0" font-size="10" fill="#c2334f" stroke="#c2334f" stroke-width="0.1" textLength="20.3" lengthAdjust="spacingAndGlyphs">grade</text><text transform="translate(496.5,58.6) rotate(90)" x="0" y="0" font-size="10" fill="#1a1a1a" stroke="#1a1a1a" stroke-width="0.1" textLength="13.2" lengthAdjust="spacingAndGlyphs">and</text><text transform="translate(496.5,73.4) rotate(90)" x="0" y="0" font-size="10" fill="#4d7c62" stroke="#4d7c62" stroke-width="0.1" textLength="29.85" lengthAdjust="spacingAndGlyphs">ΔCRS/Δt</text><line x1="384.9" y1="127.9" x2="392.9" y2="127.9" stroke="#8d9098" stroke-width="1.35"/><circle cx="388.9" cy="127.9" r="1.67" fill="#3c4357"/><text x="396.2" y="130.8" font-size="8.4" textLength="18" lengthAdjust="spacingAndGlyphs" fill="#1a1a1a" stroke="#1a1a1a" stroke-width="0.1">IFN-γ</text><line x1="420.5" y1="127.9" x2="428.5" y2="127.9" stroke="#9ccaee" stroke-width="1.35"/><path d="M424.5 126.03L426.38 129.4L422.62 129.4Z" fill="#6cb0e6"/><text x="431.3" y="130.8" font-size="8.4" textLength="29.5" lengthAdjust="spacingAndGlyphs" fill="#1a1a1a" stroke="#1a1a1a" stroke-width="0.1">ΔCRS/Δt</text><line x1="466.6" y1="127.9" x2="474.6" y2="127.9" stroke="#e46ab6" stroke-width="1.35"/><rect x="469.18" y="126.48" width="2.85" height="2.85" fill="#cc1c86"/><text x="477.5" y="130.8" font-size="8.4" textLength="14.5" lengthAdjust="spacingAndGlyphs" fill="#1a1a1a" stroke="#1a1a1a" stroke-width="0.1">CRS</text></g>
<g><text x="8.1" y="155.4" font-size="11.5" font-weight="bold" fill="#000" stroke="#000" stroke-width="0.55">D</text><line x1="59.5" y1="201.5" x2="137.5" y2="201.5" stroke="#c6c6c6" stroke-width="1.0"/><line x1="63.2" y1="176.2" x2="63.2" y2="225.5" stroke="#d3e7c4" stroke-width="1.0"/><line x1="86.5" y1="176.2" x2="86.5" y2="225.5" stroke="#d3e7c4" stroke-width="1.0"/><polyline points="59.5,201.5 63.4,186.98 67.3,211.8 71.2,204.4 82.9,198.33 86.8,179.32 90.7,216.55 94.6,223.15 98.5,203.08 114.1,205.72 118,194.64 121.9,202.03" fill="none" stroke="#8d9098" stroke-width="0.85" stroke-linejoin="round"/><polyline points="59.5,201.5 63.4,191.1 67.3,206.7 71.2,201.5 75.1,201.5 79,196.3 82.9,206.7 86.8,191.1 90.7,196.3 94.6,201.5 98.5,201.5 102.4,211.9 106.3,201.5 110.2,201.5 114.1,201.5 118,201.5 121.9,201.5" fill="none" stroke="#9ccaee" stroke-width="0.85" stroke-linejoin="round"/><polyline points="59.5,201.5 63.4,191.1 67.3,196.3 71.2,196.3 75.1,196.3 79,191.1 82.9,196.3 86.8,185.9 90.7,180.7 94.6,180.7 98.5,180.7 102.4,191.1 106.3,191.1 110.2,191.1 114.1,191.1 118,191.1 121.9,191.1" fill="none" stroke="#e46ab6" stroke-width="1" stroke-linejoin="round"/><circle cx="59.5" cy="201.5" r="0.88" fill="#111"/><circle cx="63.4" cy="186.98" r="0.88" fill="#111"/><circle cx="67.3" cy="211.8" r="0.88" fill="#111"/><circle cx="71.2" cy="204.4" r="0.88" fill="#111"/><circle cx="82.9" cy="198.33" r="0.88" fill="#111"/><circle cx="86.8" cy="179.32" r="0.88" fill="#111"/><circle cx="90.7" cy="216.55" r="0.88" fill="#111"/><circle cx="94.6" cy="223.15" r="0.88" fill="#111"/><circle cx="98.5" cy="203.08" r="0.88" fill="#111"/><circle cx="114.1" cy="205.72" r="0.88" fill="#111"/><circle cx="118" cy="194.64" r="0.88" fill="#111"/><circle cx="121.9" cy="202.03" r="0.88" fill="#111"/><path d="M59.5 200.62L60.38 202.2L58.62 202.2Z" fill="#6cb0e6"/><path d="M63.4 190.22L64.28 191.8L62.52 191.8Z" fill="#6cb0e6"/><path d="M67.3 205.82L68.17 207.4L66.42 207.4Z" fill="#6cb0e6"/><path d="M71.2 200.62L72.08 202.2L70.33 202.2Z" fill="#6cb0e6"/><path d="M75.1 200.62L75.97 202.2L74.22 202.2Z" fill="#6cb0e6"/><path d="M79 195.43L79.88 197L78.12 197Z" fill="#6cb0e6"/><path d="M82.9 205.82L83.78 207.4L82.03 207.4Z" fill="#6cb0e6"/><path d="M86.8 190.22L87.67 191.8L85.92 191.8Z" fill="#6cb0e6"/><path d="M90.7 195.43L91.58 197L89.83 197Z" fill="#6cb0e6"/><path d="M94.6 200.62L95.47 202.2L93.72 202.2Z" fill="#6cb0e6"/><path d="M98.5 200.62L99.38 202.2L97.62 202.2Z" fill="#6cb0e6"/><path d="M102.4 211.03L103.28 212.6L101.53 212.6Z" fill="#6cb0e6"/><path d="M106.3 200.62L107.17 202.2L105.42 202.2Z" fill="#6cb0e6"/><path d="M110.2 200.62L111.07 202.2L109.32 202.2Z" fill="#6cb0e6"/><path d="M114.1 200.62L114.97 202.2L113.22 202.2Z" fill="#6cb0e6"/><path d="M118 200.62L118.88 202.2L117.12 202.2Z" fill="#6cb0e6"/><path d="M121.9 200.62L122.78 202.2L121.03 202.2Z" fill="#6cb0e6"/><rect x="58.65" y="200.65" width="1.71" height="1.71" fill="#cc1c86"/><rect x="62.55" y="190.25" width="1.71" height="1.71" fill="#cc1c86"/><rect x="66.44" y="195.45" width="1.71" height="1.71" fill="#cc1c86"/><rect x="70.34" y="195.45" width="1.71" height="1.71" fill="#cc1c86"/><rect x="74.24" y="195.45" width="1.71" height="1.71" fill="#cc1c86"/><rect x="78.14" y="190.25" width="1.71" height="1.71" fill="#cc1c86"/><rect x="82.05" y="195.45" width="1.71" height="1.71" fill="#cc1c86"/><rect x="85.94" y="185.05" width="1.71" height="1.71" fill="#cc1c86"/><rect x="89.84" y="179.84" width="1.71" height="1.71" fill="#cc1c86"/><rect x="93.74" y="179.84" width="1.71" height="1.71" fill="#cc1c86"/><rect x="97.64" y="179.84" width="1.71" height="1.71" fill="#cc1c86"/><rect x="101.55" y="190.25" width="1.71" height="1.71" fill="#cc1c86"/><rect x="105.44" y="190.25" width="1.71" height="1.71" fill="#cc1c86"/><rect x="109.34" y="190.25" width="1.71" height="1.71" fill="#cc1c86"/><rect x="113.24" y="190.25" width="1.71" height="1.71" fill="#cc1c86"/><rect x="117.14" y="190.25" width="1.71" height="1.71" fill="#cc1c86"/><rect x="121.05" y="190.25" width="1.71" height="1.71" fill="#cc1c86"/><path d="M59.5 173.2V227.5H137.5V173.2" fill="none" stroke="#1a1a1a" stroke-width="1.1"/><line x1="56.1" y1="175.1" x2="59.5" y2="175.1" stroke="#1a1a1a" stroke-width="0.9"/><text x="54" y="177.7" font-size="9.5" text-anchor="end" textLength="13.79" lengthAdjust="spacingAndGlyphs" fill="#1a1a1a" stroke="#1a1a1a" stroke-width="0.1">100</text><line x1="56.1" y1="188.3" x2="59.5" y2="188.3" stroke="#1a1a1a" stroke-width="0.9"/><text x="54" y="190.9" font-size="9.5" text-anchor="end" textLength="9.19" lengthAdjust="spacingAndGlyphs" fill="#1a1a1a" stroke="#1a1a1a" stroke-width="0.1">50</text><line x1="56.1" y1="201.5" x2="59.5" y2="201.5" stroke="#1a1a1a" stroke-width="0.9"/><text x="54" y="204.1" font-size="9.5" text-anchor="end" textLength="4.6" lengthAdjust="spacingAndGlyphs" fill="#1a1a1a" stroke="#1a1a1a" stroke-width="0.1">0</text><line x1="56.1" y1="214.7" x2="59.5" y2="214.7" stroke="#1a1a1a" stroke-width="0.9"/><text x="54" y="217.3" font-size="9.5" text-anchor="end" textLength="9.19" lengthAdjust="spacingAndGlyphs" fill="#1a1a1a" stroke="#1a1a1a" stroke-width="0.1">50</text><rect x="42.51" y="214.8" width="1.9" height="0.95" fill="#1a1a1a"/><line x1="56.1" y1="227.9" x2="59.5" y2="227.9" stroke="#1a1a1a" stroke-width="0.9"/><text x="54" y="230.5" font-size="9.5" text-anchor="end" textLength="13.79" lengthAdjust="spacingAndGlyphs" fill="#1a1a1a" stroke="#1a1a1a" stroke-width="0.1">100</text><rect x="37.91" y="228" width="1.9" height="0.95" fill="#1a1a1a"/><line x1="59.5" y1="227.5" x2="59.5" y2="230.3" stroke="#1a1a1a" stroke-width="0.9"/><text x="59.5" y="240.3" font-size="9.5" text-anchor="middle" textLength="4.6" lengthAdjust="spacingAndGlyphs" fill="#1a1a1a" stroke="#1a1a1a" stroke-width="0.1">0</text><line x1="79" y1="227.5" x2="79" y2="230.3" stroke="#1a1a1a" stroke-width="0.9"/><text x="79" y="240.3" font-size="9.5" text-anchor="middle" textLength="4.6" lengthAdjust="spacingAndGlyphs" fill="#1a1a1a" stroke="#1a1a1a" stroke-width="0.1">5</text><line x1="98.5" y1="227.5" x2="98.5" y2="230.3" stroke="#1a1a1a" stroke-width="0.9"/><text x="98.5" y="240.3" font-size="9.5" text-anchor="middle" textLength="9.19" lengthAdjust="spacingAndGlyphs" fill="#1a1a1a" stroke="#1a1a1a" stroke-width="0.1">10</text><line x1="118" y1="227.5" x2="118" y2="230.3" stroke="#1a1a1a" stroke-width="0.9"/><text x="118" y="240.3" font-size="9.5" text-anchor="middle" textLength="9.19" lengthAdjust="spacingAndGlyphs" fill="#1a1a1a" stroke="#1a1a1a" stroke-width="0.1">15</text><line x1="137.5" y1="227.5" x2="137.5" y2="230.3" stroke="#1a1a1a" stroke-width="0.9"/><text x="137.5" y="240.3" font-size="9.5" text-anchor="middle" textLength="9.19" lengthAdjust="spacingAndGlyphs" fill="#1a1a1a" stroke="#1a1a1a" stroke-width="0.1">20</text><line x1="137.5" y1="227.5" x2="140.5" y2="227.5" stroke="#1a1a1a" stroke-width="0.8"/><rect x="143.7" y="227.6" width="1.9" height="0.95" fill="#1a1a1a"/><text x="146.1" y="230.3" font-size="9.5" textLength="4.6" lengthAdjust="spacingAndGlyphs" fill="#1a1a1a" stroke="#1a1a1a" stroke-width="0.1">5</text><line x1="137.5" y1="222.3" x2="139.1" y2="222.3" stroke="#1a1a1a" stroke-width="0.8"/><line x1="137.5" y1="217.1" x2="139.1" y2="217.1" stroke="#1a1a1a" stroke-width="0.8"/><line x1="137.5" y1="211.9" x2="139.1" y2="211.9" stroke="#1a1a1a" stroke-width="0.8"/><line x1="137.5" y1="206.7" x2="139.1" y2="206.7" stroke="#1a1a1a" stroke-width="0.8"/><line x1="137.5" y1="201.5" x2="140.5" y2="201.5" stroke="#1a1a1a" stroke-width="0.8"/><text x="143.8" y="204.3" font-size="9.5" textLength="4.6" lengthAdjust="spacingAndGlyphs" fill="#1a1a1a" stroke="#1a1a1a" stroke-width="0.1">0</text><line x1="137.5" y1="196.3" x2="139.1" y2="196.3" stroke="#1a1a1a" stroke-width="0.8"/><line x1="137.5" y1="191.1" x2="139.1" y2="191.1" stroke="#1a1a1a" stroke-width="0.8"/><line x1="137.5" y1="185.9" x2="139.1" y2="185.9" stroke="#1a1a1a" stroke-width="0.8"/><line x1="137.5" y1="180.7" x2="139.1" y2="180.7" stroke="#1a1a1a" stroke-width="0.8"/><line x1="137.5" y1="175.5" x2="140.5" y2="175.5" stroke="#1a1a1a" stroke-width="0.8"/><text x="143.8" y="178.3" font-size="9.5" textLength="4.6" lengthAdjust="spacingAndGlyphs" fill="#1a1a1a" stroke="#1a1a1a" stroke-width="0.1">5</text><text x="98.5" y="253.8" font-size="10.6" text-anchor="middle" textLength="35.4" lengthAdjust="spacingAndGlyphs" fill="#1a1a1a" stroke="#1a1a1a" stroke-width="0.1">Time (day)</text><text x="85.5" y="168.7" font-size="8.8" textLength="18.8" lengthAdjust="spacingAndGlyphs" fill="#1a1a1a" stroke="#1a1a1a" stroke-width="0.1">IL-10</text><text x="106.05" y="168.05" font-size="7" text-anchor="middle" fill="#1a1a1a" stroke="#1a1a1a" stroke-width="0.35">*</text><text x="109.05" y="168.05" font-size="7" text-anchor="middle" fill="#1a1a1a" stroke="#1a1a1a" stroke-width="0.35">*</text><text transform="translate(20.5,201.2) rotate(-90)" x="0" y="0" font-size="10" text-anchor="middle" fill="#1a1a1a" stroke="#1a1a1a" stroke-width="0.1" textLength="62.4" lengthAdjust="spacingAndGlyphs">Concentration rate</text><text transform="translate(32.4,201.2) rotate(-90)" x="0" y="0" font-size="10" text-anchor="middle" fill="#1a1a1a" stroke="#1a1a1a" stroke-width="0.1" textLength="63.6" lengthAdjust="spacingAndGlyphs">Δc/Δt (pg/mL/day)</text><text transform="translate(156.1,160.3) rotate(90)" x="0" y="0" font-size="10" fill="#c2334f" stroke="#c2334f" stroke-width="0.1" textLength="14.1" lengthAdjust="spacingAndGlyphs">CRS</text><text transform="translate(156.1,175.9) rotate(90)" x="0" y="0" font-size="10" fill="#c2334f" stroke="#c2334f" stroke-width="0.1" textLength="20.3" lengthAdjust="spacingAndGlyphs">grade</text><text transform="translate(156.1,197.4) rotate(90)" x="0" y="0" font-size="10" fill="#1a1a1a" stroke="#1a1a1a" stroke-width="0.1" textLength="13.2" lengthAdjust="spacingAndGlyphs">and</text><text transform="translate(156.1,212.2) rotate(90)" x="0" y="0" font-size="10" fill="#4d7c62" stroke="#4d7c62" stroke-width="0.1" textLength="29.85" lengthAdjust="spacingAndGlyphs">ΔCRS/Δt</text><line x1="44.9" y1="265.9" x2="52.9" y2="265.9" stroke="#333" stroke-width="1.35"/><circle cx="48.9" cy="265.9" r="1.67" fill="#111"/><text x="55.7" y="268.8" font-size="8.4" textLength="17.8" lengthAdjust="spacingAndGlyphs" fill="#1a1a1a" stroke="#1a1a1a" stroke-width="0.1">IL-10</text><line x1="79.5" y1="265.9" x2="87.5" y2="265.9" stroke="#9ccaee" stroke-width="1.35"/><path d="M83.5 264.02L85.38 267.4L81.62 267.4Z" fill="#6cb0e6"/><text x="90.3" y="268.8" font-size="8.4" textLength="29.4" lengthAdjust="spacingAndGlyphs" fill="#1a1a1a" stroke="#1a1a1a" stroke-width="0.1">ΔCRS/Δt</text><line x1="125.7" y1="265.9" x2="133.7" y2="265.9" stroke="#e46ab6" stroke-width="1.35"/><rect x="128.27" y="264.47" width="2.85" height="2.85" fill="#cc1c86"/><text x="136.5" y="268.8" font-size="8.4" textLength="14.4" lengthAdjust="spacingAndGlyphs" fill="#1a1a1a" stroke="#1a1a1a" stroke-width="0.1">CRS</text></g>
<g><text x="179" y="155.4" font-size="11.5" font-weight="bold" fill="#000" stroke="#000" stroke-width="0.55">E</text><line x1="234.5" y1="201.5" x2="312.5" y2="201.5" stroke="#c6c6c6" stroke-width="1.0"/><line x1="238.2" y1="176.2" x2="238.2" y2="225.5" stroke="#d3e7c4" stroke-width="1.0"/><line x1="261.5" y1="176.2" x2="261.5" y2="225.5" stroke="#d3e7c4" stroke-width="1.0"/><polyline points="234.5,201.5 238.4,196.32 242.3,223.51 246.2,202.28 257.9,207.28 261.8,189.76 265.7,209.27 269.6,209.27 273.5,201.5 289.1,205.56 293,195.11 296.9,197.62" fill="none" stroke="#8d9098" stroke-width="0.85" stroke-linejoin="round"/><polyline points="234.5,201.5 238.4,191.1 242.3,206.7 246.2,201.5 250.1,201.5 254,196.3 257.9,206.7 261.8,191.1 265.7,196.3 269.6,201.5 273.5,201.5 277.4,211.9 281.3,201.5 285.2,201.5 289.1,201.5 293,201.5 296.9,201.5" fill="none" stroke="#9ccaee" stroke-width="0.85" stroke-linejoin="round"/><polyline points="234.5,201.5 238.4,191.1 242.3,196.3 246.2,196.3 250.1,196.3 254,191.1 257.9,196.3 261.8,185.9 265.7,180.7 269.6,180.7 273.5,180.7 277.4,191.1 281.3,191.1 285.2,191.1 289.1,191.1 293,191.1 296.9,191.1" fill="none" stroke="#e46ab6" stroke-width="1" stroke-linejoin="round"/><circle cx="234.5" cy="201.5" r="0.88" fill="#3c4357"/><circle cx="238.4" cy="196.32" r="0.88" fill="#3c4357"/><circle cx="242.3" cy="223.51" r="0.88" fill="#3c4357"/><circle cx="246.2" cy="202.28" r="0.88" fill="#3c4357"/><circle cx="257.9" cy="207.28" r="0.88" fill="#3c4357"/><circle cx="261.8" cy="189.76" r="0.88" fill="#3c4357"/><circle cx="265.7" cy="209.27" r="0.88" fill="#3c4357"/><circle cx="269.6" cy="209.27" r="0.88" fill="#3c4357"/><circle cx="273.5" cy="201.5" r="0.88" fill="#3c4357"/><circle cx="289.1" cy="205.56" r="0.88" fill="#3c4357"/><circle cx="293" cy="195.11" r="0.88" fill="#3c4357"/><circle cx="296.9" cy="197.62" r="0.88" fill="#3c4357"/><path d="M234.5 200.62L235.38 202.2L233.62 202.2Z" fill="#6cb0e6"/><path d="M238.4 190.22L239.28 191.8L237.53 191.8Z" fill="#6cb0e6"/><path d="M242.3 205.82L243.18 207.4L241.43 207.4Z" fill="#6cb0e6"/><path d="M246.2 200.62L247.07 202.2L245.32 202.2Z" fill="#6cb0e6"/><path d="M250.1 200.62L250.97 202.2L249.22 202.2Z" fill="#6cb0e6"/><path d="M254 195.43L254.88 197L253.12 197Z" fill="#6cb0e6"/><path d="M257.9 205.82L258.77 207.4L257.02 207.4Z" fill="#6cb0e6"/><path d="M261.8 190.22L262.68 191.8L260.93 191.8Z" fill="#6cb0e6"/><path d="M265.7 195.43L266.57 197L264.82 197Z" fill="#6cb0e6"/><path d="M269.6 200.62L270.48 202.2L268.73 202.2Z" fill="#6cb0e6"/><path d="M273.5 200.62L274.38 202.2L272.62 202.2Z" fill="#6cb0e6"/><path d="M277.4 211.03L278.27 212.6L276.52 212.6Z" fill="#6cb0e6"/><path d="M281.3 200.62L282.18 202.2L280.43 202.2Z" fill="#6cb0e6"/><path d="M285.2 200.62L286.07 202.2L284.32 202.2Z" fill="#6cb0e6"/><path d="M289.1 200.62L289.98 202.2L288.23 202.2Z" fill="#6cb0e6"/><path d="M293 200.62L293.88 202.2L292.12 202.2Z" fill="#6cb0e6"/><path d="M296.9 200.62L297.77 202.2L296.02 202.2Z" fill="#6cb0e6"/><rect x="233.65" y="200.65" width="1.71" height="1.71" fill="#cc1c86"/><rect x="237.55" y="190.25" width="1.71" height="1.71" fill="#cc1c86"/><rect x="241.45" y="195.45" width="1.71" height="1.71" fill="#cc1c86"/><rect x="245.34" y="195.45" width="1.71" height="1.71" fill="#cc1c86"/><rect x="249.25" y="195.45" width="1.71" height="1.71" fill="#cc1c86"/><rect x="253.15" y="190.25" width="1.71" height="1.71" fill="#cc1c86"/><rect x="257.04" y="195.45" width="1.71" height="1.71" fill="#cc1c86"/><rect x="260.94" y="185.05" width="1.71" height="1.71" fill="#cc1c86"/><rect x="264.84" y="179.84" width="1.71" height="1.71" fill="#cc1c86"/><rect x="268.75" y="179.84" width="1.71" height="1.71" fill="#cc1c86"/><rect x="272.64" y="179.84" width="1.71" height="1.71" fill="#cc1c86"/><rect x="276.54" y="190.25" width="1.71" height="1.71" fill="#cc1c86"/><rect x="280.44" y="190.25" width="1.71" height="1.71" fill="#cc1c86"/><rect x="284.34" y="190.25" width="1.71" height="1.71" fill="#cc1c86"/><rect x="288.25" y="190.25" width="1.71" height="1.71" fill="#cc1c86"/><rect x="292.14" y="190.25" width="1.71" height="1.71" fill="#cc1c86"/><rect x="296.04" y="190.25" width="1.71" height="1.71" fill="#cc1c86"/><path d="M234.5 173.2V227.5H312.5V173.2" fill="none" stroke="#1a1a1a" stroke-width="1.1"/><line x1="231.1" y1="175.61" x2="234.5" y2="175.61" stroke="#1a1a1a" stroke-width="0.9"/><text x="229" y="178.21" font-size="9.5" text-anchor="end" textLength="13.79" lengthAdjust="spacingAndGlyphs" fill="#1a1a1a" stroke="#1a1a1a" stroke-width="0.1">300</text><line x1="231.1" y1="184.24" x2="234.5" y2="184.24" stroke="#1a1a1a" stroke-width="0.9"/><text x="229" y="186.84" font-size="9.5" text-anchor="end" textLength="13.79" lengthAdjust="spacingAndGlyphs" fill="#1a1a1a" stroke="#1a1a1a" stroke-width="0.1">200</text><line x1="231.1" y1="192.87" x2="234.5" y2="192.87" stroke="#1a1a1a" stroke-width="0.9"/><text x="229" y="195.47" font-size="9.5" text-anchor="end" textLength="13.79" lengthAdjust="spacingAndGlyphs" fill="#1a1a1a" stroke="#1a1a1a" stroke-width="0.1">100</text><line x1="231.1" y1="201.5" x2="234.5" y2="201.5" stroke="#1a1a1a" stroke-width="0.9"/><text x="229" y="204.1" font-size="9.5" text-anchor="end" textLength="4.6" lengthAdjust="spacingAndGlyphs" fill="#1a1a1a" stroke="#1a1a1a" stroke-width="0.1">0</text><line x1="231.1" y1="210.13" x2="234.5" y2="210.13" stroke="#1a1a1a" stroke-width="0.9"/><text x="229" y="212.73" font-size="9.5" text-anchor="end" textLength="13.79" lengthAdjust="spacingAndGlyphs" fill="#1a1a1a" stroke="#1a1a1a" stroke-width="0.1">100</text><rect x="212.91" y="210.23" width="1.9" height="0.95" fill="#1a1a1a"/><line x1="231.1" y1="218.76" x2="234.5" y2="218.76" stroke="#1a1a1a" stroke-width="0.9"/><text x="229" y="221.36" font-size="9.5" text-anchor="end" textLength="13.79" lengthAdjust="spacingAndGlyphs" fill="#1a1a1a" stroke="#1a1a1a" stroke-width="0.1">200</text><rect x="212.91" y="218.86" width="1.9" height="0.95" fill="#1a1a1a"/><line x1="231.1" y1="227.39" x2="234.5" y2="227.39" stroke="#1a1a1a" stroke-width="0.9"/><text x="229" y="229.99" font-size="9.5" text-anchor="end" textLength="13.79" lengthAdjust="spacingAndGlyphs" fill="#1a1a1a" stroke="#1a1a1a" stroke-width="0.1">300</text><rect x="212.91" y="227.49" width="1.9" height="0.95" fill="#1a1a1a"/><line x1="234.5" y1="227.5" x2="234.5" y2="230.3" stroke="#1a1a1a" stroke-width="0.9"/><text x="234.5" y="240.3" font-size="9.5" text-anchor="middle" textLength="4.6" lengthAdjust="spacingAndGlyphs" fill="#1a1a1a" stroke="#1a1a1a" stroke-width="0.1">0</text><line x1="254" y1="227.5" x2="254" y2="230.3" stroke="#1a1a1a" stroke-width="0.9"/><text x="254" y="240.3" font-size="9.5" text-anchor="middle" textLength="4.6" lengthAdjust="spacingAndGlyphs" fill="#1a1a1a" stroke="#1a1a1a" stroke-width="0.1">5</text><line x1="273.5" y1="227.5" x2="273.5" y2="230.3" stroke="#1a1a1a" stroke-width="0.9"/><text x="273.5" y="240.3" font-size="9.5" text-anchor="middle" textLength="9.19" lengthAdjust="spacingAndGlyphs" fill="#1a1a1a" stroke="#1a1a1a" stroke-width="0.1">10</text><line x1="293" y1="227.5" x2="293" y2="230.3" stroke="#1a1a1a" stroke-width="0.9"/><text x="293" y="240.3" font-size="9.5" text-anchor="middle" textLength="9.19" lengthAdjust="spacingAndGlyphs" fill="#1a1a1a" stroke="#1a1a1a" stroke-width="0.1">15</text><line x1="312.5" y1="227.5" x2="312.5" y2="230.3" stroke="#1a1a1a" stroke-width="0.9"/><text x="312.5" y="240.3" font-size="9.5" text-anchor="middle" textLength="9.19" lengthAdjust="spacingAndGlyphs" fill="#1a1a1a" stroke="#1a1a1a" stroke-width="0.1">20</text><line x1="312.5" y1="227.5" x2="315.5" y2="227.5" stroke="#1a1a1a" stroke-width="0.8"/><rect x="318.7" y="227.6" width="1.9" height="0.95" fill="#1a1a1a"/><text x="321.1" y="230.3" font-size="9.5" textLength="4.6" lengthAdjust="spacingAndGlyphs" fill="#1a1a1a" stroke="#1a1a1a" stroke-width="0.1">5</text><line x1="312.5" y1="222.3" x2="314.1" y2="222.3" stroke="#1a1a1a" stroke-width="0.8"/><line x1="312.5" y1="217.1" x2="314.1" y2="217.1" stroke="#1a1a1a" stroke-width="0.8"/><line x1="312.5" y1="211.9" x2="314.1" y2="211.9" stroke="#1a1a1a" stroke-width="0.8"/><line x1="312.5" y1="206.7" x2="314.1" y2="206.7" stroke="#1a1a1a" stroke-width="0.8"/><line x1="312.5" y1="201.5" x2="315.5" y2="201.5" stroke="#1a1a1a" stroke-width="0.8"/><text x="318.8" y="204.3" font-size="9.5" textLength="4.6" lengthAdjust="spacingAndGlyphs" fill="#1a1a1a" stroke="#1a1a1a" stroke-width="0.1">0</text><line x1="312.5" y1="196.3" x2="314.1" y2="196.3" stroke="#1a1a1a" stroke-width="0.8"/><line x1="312.5" y1="191.1" x2="314.1" y2="191.1" stroke="#1a1a1a" stroke-width="0.8"/><line x1="312.5" y1="185.9" x2="314.1" y2="185.9" stroke="#1a1a1a" stroke-width="0.8"/><line x1="312.5" y1="180.7" x2="314.1" y2="180.7" stroke="#1a1a1a" stroke-width="0.8"/><line x1="312.5" y1="175.5" x2="315.5" y2="175.5" stroke="#1a1a1a" stroke-width="0.8"/><text x="318.8" y="178.3" font-size="9.5" textLength="4.6" lengthAdjust="spacingAndGlyphs" fill="#1a1a1a" stroke="#1a1a1a" stroke-width="0.1">5</text><text x="273.5" y="253.8" font-size="10.6" text-anchor="middle" textLength="35.4" lengthAdjust="spacingAndGlyphs" fill="#1a1a1a" stroke="#1a1a1a" stroke-width="0.1">Time (day)</text><text x="264.25" y="167.7" font-size="8.8" textLength="13" lengthAdjust="spacingAndGlyphs" fill="#1a1a1a" stroke="#1a1a1a" stroke-width="0.1">IL-8</text><text x="279.5" y="167.15" font-size="7" text-anchor="middle" fill="#1a1a1a" stroke="#1a1a1a" stroke-width="0.35">*</text><text transform="translate(195.5,201.2) rotate(-90)" x="0" y="0" font-size="10" text-anchor="middle" fill="#1a1a1a" stroke="#1a1a1a" stroke-width="0.1" textLength="62.4" lengthAdjust="spacingAndGlyphs">Concentration rate</text><text transform="translate(207.4,201.2) rotate(-90)" x="0" y="0" font-size="10" text-anchor="middle" fill="#1a1a1a" stroke="#1a1a1a" stroke-width="0.1" textLength="63.6" lengthAdjust="spacingAndGlyphs">Δc/Δt (pg/mL/day)</text><text transform="translate(331.1,160.3) rotate(90)" x="0" y="0" font-size="10" fill="#c2334f" stroke="#c2334f" stroke-width="0.1" textLength="14.1" lengthAdjust="spacingAndGlyphs">CRS</text><text transform="translate(331.1,175.9) rotate(90)" x="0" y="0" font-size="10" fill="#c2334f" stroke="#c2334f" stroke-width="0.1" textLength="20.3" lengthAdjust="spacingAndGlyphs">grade</text><text transform="translate(331.1,197.4) rotate(90)" x="0" y="0" font-size="10" fill="#1a1a1a" stroke="#1a1a1a" stroke-width="0.1" textLength="13.2" lengthAdjust="spacingAndGlyphs">and</text><text transform="translate(331.1,212.2) rotate(90)" x="0" y="0" font-size="10" fill="#4d7c62" stroke="#4d7c62" stroke-width="0.1" textLength="29.85" lengthAdjust="spacingAndGlyphs">ΔCRS/Δt</text><line x1="221.8" y1="265.9" x2="229.8" y2="265.9" stroke="#8d9098" stroke-width="1.35"/><circle cx="225.8" cy="265.9" r="1.67" fill="#3c4357"/><text x="232.3" y="268.8" font-size="8.4" textLength="13.9" lengthAdjust="spacingAndGlyphs" fill="#1a1a1a" stroke="#1a1a1a" stroke-width="0.1">IL-8</text><line x1="252.2" y1="265.9" x2="260.2" y2="265.9" stroke="#9ccaee" stroke-width="1.35"/><path d="M256.2 264.02L258.07 267.4L254.32 267.4Z" fill="#6cb0e6"/><text x="263.5" y="268.8" font-size="8.4" textLength="28.9" lengthAdjust="spacingAndGlyphs" fill="#1a1a1a" stroke="#1a1a1a" stroke-width="0.1">ΔCRS/Δt</text><line x1="298.4" y1="265.9" x2="306.4" y2="265.9" stroke="#e46ab6" stroke-width="1.35"/><rect x="300.97" y="264.47" width="2.85" height="2.85" fill="#cc1c86"/><text x="309.7" y="268.8" font-size="8.4" textLength="13.8" lengthAdjust="spacingAndGlyphs" fill="#1a1a1a" stroke="#1a1a1a" stroke-width="0.1">CRS</text></g>
<g><text x="353" y="155.4" font-size="11.5" font-weight="bold" fill="#000" stroke="#000" stroke-width="0.55">F</text><line x1="399.8" y1="201.7" x2="476.9" y2="201.7" stroke="#dcdcdc" stroke-width="1.8"/><line x1="403.4" y1="176.5" x2="403.4" y2="225.5" stroke="#d3e7c4" stroke-width="1.0"/><line x1="426.8" y1="176.5" x2="426.8" y2="225.5" stroke="#d3e7c4" stroke-width="1.0"/><polyline points="399.8,201.5 403.66,204.04 407.51,199.47 411.37,202.01 422.93,203.53 426.79,198.45 430.64,202.52 434.5,205.56 438.35,201.5 453.77,203.33 457.62,201.09 461.48,201.5" fill="none" stroke="#d99a5a" stroke-width="0.85" stroke-linejoin="round"/><polyline points="399.8,201.5 403.66,179.66 407.51,214.2 411.37,203.02 422.93,205.06 426.79,202.26 430.64,203.02 434.5,201.5 438.35,202.01 453.77,200.99 457.62,201.25 461.48,201.5" fill="none" stroke="#8d9098" stroke-width="0.85" stroke-linejoin="round"/><polyline points="399.8,201.5 403.66,191.1 407.51,206.7 411.37,201.5 415.22,201.5 419.07,196.3 422.93,206.7 426.79,191.1 430.64,196.3 434.5,201.5 438.35,201.5 442.2,211.9 446.06,201.5 449.91,201.5 453.77,201.5 457.62,201.5 461.48,201.5" fill="none" stroke="#9ccaee" stroke-width="0.85" stroke-linejoin="round"/><polyline points="399.8,201.5 403.66,191.1 407.51,196.3 411.37,196.3 415.22,196.3 419.07,191.1 422.93,196.3 426.79,185.9 430.64,180.7 434.5,180.7 438.35,180.7 442.2,191.1 446.06,191.1 449.91,191.1 453.77,191.1 457.62,191.1 461.48,191.1" fill="none" stroke="#e46ab6" stroke-width="1" stroke-linejoin="round"/><path d="M399.8 202.75L401.05 200.5L398.55 200.5Z" fill="#b8661c"/><path d="M403.66 205.29L404.91 203.04L402.41 203.04Z" fill="#b8661c"/><path d="M407.51 200.72L408.76 198.47L406.26 198.47Z" fill="#b8661c"/><path d="M411.37 203.26L412.62 201.01L410.12 201.01Z" fill="#b8661c"/><path d="M422.93 204.78L424.18 202.53L421.68 202.53Z" fill="#b8661c"/><path d="M426.79 199.7L428.04 197.45L425.54 197.45Z" fill="#b8661c"/><path d="M430.64 203.77L431.89 201.52L429.39 201.52Z" fill="#b8661c"/><path d="M434.5 206.81L435.75 204.56L433.25 204.56Z" fill="#b8661c"/><path d="M438.35 202.75L439.6 200.5L437.1 200.5Z" fill="#b8661c"/><path d="M453.77 204.58L455.02 202.33L452.52 202.33Z" fill="#b8661c"/><path d="M457.62 202.34L458.88 200.09L456.38 200.09Z" fill="#b8661c"/><path d="M461.48 202.75L462.73 200.5L460.23 200.5Z" fill="#b8661c"/><circle cx="399.8" cy="201.5" r="0.88" fill="#3c4357"/><circle cx="403.66" cy="179.66" r="0.88" fill="#3c4357"/><circle cx="407.51" cy="214.2" r="0.88" fill="#3c4357"/><circle cx="411.37" cy="203.02" r="0.88" fill="#3c4357"/><circle cx="422.93" cy="205.06" r="0.88" fill="#3c4357"/><circle cx="426.79" cy="202.26" r="0.88" fill="#3c4357"/><circle cx="430.64" cy="203.02" r="0.88" fill="#3c4357"/><circle cx="434.5" cy="201.5" r="0.88" fill="#3c4357"/><circle cx="438.35" cy="202.01" r="0.88" fill="#3c4357"/><circle cx="453.77" cy="200.99" r="0.88" fill="#3c4357"/><circle cx="457.62" cy="201.25" r="0.88" fill="#3c4357"/><circle cx="461.48" cy="201.5" r="0.88" fill="#3c4357"/><path d="M399.8 200.62L400.68 202.2L398.93 202.2Z" fill="#6cb0e6"/><path d="M403.66 190.22L404.53 191.8L402.78 191.8Z" fill="#6cb0e6"/><path d="M407.51 205.82L408.38 207.4L406.63 207.4Z" fill="#6cb0e6"/><path d="M411.37 200.62L412.24 202.2L410.49 202.2Z" fill="#6cb0e6"/><path d="M415.22 200.62L416.1 202.2L414.35 202.2Z" fill="#6cb0e6"/><path d="M419.07 195.43L419.95 197L418.2 197Z" fill="#6cb0e6"/><path d="M422.93 205.82L423.81 207.4L422.06 207.4Z" fill="#6cb0e6"/><path d="M426.79 190.22L427.66 191.8L425.91 191.8Z" fill="#6cb0e6"/><path d="M430.64 195.43L431.51 197L429.76 197Z" fill="#6cb0e6"/><path d="M434.5 200.62L435.37 202.2L433.62 202.2Z" fill="#6cb0e6"/><path d="M438.35 200.62L439.23 202.2L437.48 202.2Z" fill="#6cb0e6"/><path d="M442.2 211.03L443.08 212.6L441.33 212.6Z" fill="#6cb0e6"/><path d="M446.06 200.62L446.94 202.2L445.19 202.2Z" fill="#6cb0e6"/><path d="M449.91 200.62L450.79 202.2L449.04 202.2Z" fill="#6cb0e6"/><path d="M453.77 200.62L454.64 202.2L452.89 202.2Z" fill="#6cb0e6"/><path d="M457.62 200.62L458.5 202.2L456.75 202.2Z" fill="#6cb0e6"/><path d="M461.48 200.62L462.35 202.2L460.6 202.2Z" fill="#6cb0e6"/><rect x="398.94" y="200.65" width="1.71" height="1.71" fill="#cc1c86"/><rect x="402.8" y="190.25" width="1.71" height="1.71" fill="#cc1c86"/><rect x="406.65" y="195.45" width="1.71" height="1.71" fill="#cc1c86"/><rect x="410.51" y="195.45" width="1.71" height="1.71" fill="#cc1c86"/><rect x="414.37" y="195.45" width="1.71" height="1.71" fill="#cc1c86"/><rect x="418.22" y="190.25" width="1.71" height="1.71" fill="#cc1c86"/><rect x="422.07" y="195.45" width="1.71" height="1.71" fill="#cc1c86"/><rect x="425.93" y="185.05" width="1.71" height="1.71" fill="#cc1c86"/><rect x="429.78" y="179.84" width="1.71" height="1.71" fill="#cc1c86"/><rect x="433.64" y="179.84" width="1.71" height="1.71" fill="#cc1c86"/><rect x="437.5" y="179.84" width="1.71" height="1.71" fill="#cc1c86"/><rect x="441.35" y="190.25" width="1.71" height="1.71" fill="#cc1c86"/><rect x="445.2" y="190.25" width="1.71" height="1.71" fill="#cc1c86"/><rect x="449.06" y="190.25" width="1.71" height="1.71" fill="#cc1c86"/><rect x="452.91" y="190.25" width="1.71" height="1.71" fill="#cc1c86"/><rect x="456.77" y="190.25" width="1.71" height="1.71" fill="#cc1c86"/><rect x="460.62" y="190.25" width="1.71" height="1.71" fill="#cc1c86"/><path d="M399.8 173.5V227.5H476.9V173.5" fill="none" stroke="#1a1a1a" stroke-width="1.1"/><line x1="396.4" y1="176.1" x2="399.8" y2="176.1" stroke="#1a1a1a" stroke-width="0.9"/><text x="394.3" y="178.7" font-size="9.5" text-anchor="end" textLength="9.19" lengthAdjust="spacingAndGlyphs" fill="#1a1a1a" stroke="#1a1a1a" stroke-width="0.1">50</text><line x1="396.4" y1="201.5" x2="399.8" y2="201.5" stroke="#1a1a1a" stroke-width="0.9"/><text x="394.3" y="204.1" font-size="9.5" text-anchor="end" textLength="4.6" lengthAdjust="spacingAndGlyphs" fill="#1a1a1a" stroke="#1a1a1a" stroke-width="0.1">0</text><line x1="396.4" y1="226.9" x2="399.8" y2="226.9" stroke="#1a1a1a" stroke-width="0.9"/><text x="394.3" y="229.5" font-size="9.5" text-anchor="end" textLength="9.19" lengthAdjust="spacingAndGlyphs" fill="#1a1a1a" stroke="#1a1a1a" stroke-width="0.1">50</text><rect x="382.81" y="227" width="1.9" height="0.95" fill="#1a1a1a"/><line x1="399.8" y1="227.5" x2="399.8" y2="230.3" stroke="#1a1a1a" stroke-width="0.9"/><text x="399.8" y="240.3" font-size="9.5" text-anchor="middle" textLength="4.6" lengthAdjust="spacingAndGlyphs" fill="#1a1a1a" stroke="#1a1a1a" stroke-width="0.1">0</text><line x1="419.07" y1="227.5" x2="419.07" y2="230.3" stroke="#1a1a1a" stroke-width="0.9"/><text x="419.07" y="240.3" font-size="9.5" text-anchor="middle" textLength="4.6" lengthAdjust="spacingAndGlyphs" fill="#1a1a1a" stroke="#1a1a1a" stroke-width="0.1">5</text><line x1="438.35" y1="227.5" x2="438.35" y2="230.3" stroke="#1a1a1a" stroke-width="0.9"/><text x="438.35" y="240.3" font-size="9.5" text-anchor="middle" textLength="9.19" lengthAdjust="spacingAndGlyphs" fill="#1a1a1a" stroke="#1a1a1a" stroke-width="0.1">10</text><line x1="457.62" y1="227.5" x2="457.62" y2="230.3" stroke="#1a1a1a" stroke-width="0.9"/><text x="457.62" y="240.3" font-size="9.5" text-anchor="middle" textLength="9.19" lengthAdjust="spacingAndGlyphs" fill="#1a1a1a" stroke="#1a1a1a" stroke-width="0.1">15</text><line x1="476.9" y1="227.5" x2="476.9" y2="230.3" stroke="#1a1a1a" stroke-width="0.9"/><text x="476.9" y="240.3" font-size="9.5" text-anchor="middle" textLength="9.19" lengthAdjust="spacingAndGlyphs" fill="#1a1a1a" stroke="#1a1a1a" stroke-width="0.1">20</text><line x1="476.9" y1="227.5" x2="479.9" y2="227.5" stroke="#1a1a1a" stroke-width="0.8"/><rect x="483.1" y="227.6" width="1.9" height="0.95" fill="#1a1a1a"/><text x="485.5" y="230.3" font-size="9.5" textLength="4.6" lengthAdjust="spacingAndGlyphs" fill="#1a1a1a" stroke="#1a1a1a" stroke-width="0.1">5</text><line x1="476.9" y1="222.3" x2="478.5" y2="222.3" stroke="#1a1a1a" stroke-width="0.8"/><line x1="476.9" y1="217.1" x2="478.5" y2="217.1" stroke="#1a1a1a" stroke-width="0.8"/><line x1="476.9" y1="211.9" x2="478.5" y2="211.9" stroke="#1a1a1a" stroke-width="0.8"/><line x1="476.9" y1="206.7" x2="478.5" y2="206.7" stroke="#1a1a1a" stroke-width="0.8"/><line x1="476.9" y1="201.5" x2="479.9" y2="201.5" stroke="#1a1a1a" stroke-width="0.8"/><text x="483.2" y="204.3" font-size="9.5" textLength="4.6" lengthAdjust="spacingAndGlyphs" fill="#1a1a1a" stroke="#1a1a1a" stroke-width="0.1">0</text><line x1="476.9" y1="196.3" x2="478.5" y2="196.3" stroke="#1a1a1a" stroke-width="0.8"/><line x1="476.9" y1="191.1" x2="478.5" y2="191.1" stroke="#1a1a1a" stroke-width="0.8"/><line x1="476.9" y1="185.9" x2="478.5" y2="185.9" stroke="#1a1a1a" stroke-width="0.8"/><line x1="476.9" y1="180.7" x2="478.5" y2="180.7" stroke="#1a1a1a" stroke-width="0.8"/><line x1="476.9" y1="175.5" x2="479.9" y2="175.5" stroke="#1a1a1a" stroke-width="0.8"/><text x="483.2" y="178.3" font-size="9.5" textLength="4.6" lengthAdjust="spacingAndGlyphs" fill="#1a1a1a" stroke="#1a1a1a" stroke-width="0.1">5</text><text x="438.35" y="253.8" font-size="10.6" text-anchor="middle" textLength="35.4" lengthAdjust="spacingAndGlyphs" fill="#1a1a1a" stroke="#1a1a1a" stroke-width="0.1">Time (day)</text><text x="408.1" y="167.6" font-size="8.6" textLength="13.6" lengthAdjust="spacingAndGlyphs" fill="#1a1a1a" stroke="#1a1a1a" stroke-width="0.1">IL-2</text><text x="421.6" y="164.6" font-size="6" textLength="6.2" lengthAdjust="spacingAndGlyphs" fill="#1a1a1a" stroke="#1a1a1a" stroke-width="0.1">ns</text><text x="430.2" y="167.6" font-size="8.6" textLength="32.2" lengthAdjust="spacingAndGlyphs" fill="#1a1a1a" stroke="#1a1a1a" stroke-width="0.1">&amp; TNF-α</text><text x="462.2" y="164.6" font-size="6" textLength="5.7" lengthAdjust="spacingAndGlyphs" fill="#1a1a1a" stroke="#1a1a1a" stroke-width="0.1">ns</text><text transform="translate(365.5,201.2) rotate(-90)" x="0" y="0" font-size="10" text-anchor="middle" fill="#1a1a1a" stroke="#1a1a1a" stroke-width="0.1" textLength="62.4" lengthAdjust="spacingAndGlyphs">Concentration rate</text><text transform="translate(377,201.2) rotate(-90)" x="0" y="0" font-size="10" text-anchor="middle" fill="#1a1a1a" stroke="#1a1a1a" stroke-width="0.1" textLength="63.6" lengthAdjust="spacingAndGlyphs">Δc/Δt (pg/mL/day)</text><text transform="translate(495.5,160.3) rotate(90)" x="0" y="0" font-size="10" fill="#c2334f" stroke="#c2334f" stroke-width="0.1" textLength="14.1" lengthAdjust="spacingAndGlyphs">CRS</text><text transform="translate(495.5,175.9) rotate(90)" x="0" y="0" font-size="10" fill="#c2334f" stroke="#c2334f" stroke-width="0.1" textLength="20.3" lengthAdjust="spacingAndGlyphs">grade</text><text transform="translate(495.5,197.4) rotate(90)" x="0" y="0" font-size="10" fill="#1a1a1a" stroke="#1a1a1a" stroke-width="0.1" textLength="13.2" lengthAdjust="spacingAndGlyphs">and</text><text transform="translate(495.5,212.2) rotate(90)" x="0" y="0" font-size="10" fill="#4d7c62" stroke="#4d7c62" stroke-width="0.1" textLength="29.85" lengthAdjust="spacingAndGlyphs">ΔCRS/Δt</text><line x1="368.3" y1="266.3" x2="376.3" y2="266.3" stroke="#8d9098" stroke-width="1.35"/><circle cx="372.3" cy="266.3" r="1.67" fill="#3c4357"/><text x="379.2" y="269.2" font-size="8.4" textLength="12.3" lengthAdjust="spacingAndGlyphs" fill="#1a1a1a" stroke="#1a1a1a" stroke-width="0.1">IL-2</text><line x1="397" y1="266.3" x2="406.1" y2="266.3" stroke="#d99a5a" stroke-width="1.35"/><path d="M398.4 268.18L400.27 264.8L396.52 264.8Z" fill="#b8661c"/><text x="409.2" y="269.2" font-size="8.4" textLength="21.6" lengthAdjust="spacingAndGlyphs" fill="#1a1a1a" stroke="#1a1a1a" stroke-width="0.1">TNF-α</text><line x1="437.1" y1="266.3" x2="445.1" y2="266.3" stroke="#9ccaee" stroke-width="1.35"/><path d="M441.1 264.43L442.98 267.8L439.23 267.8Z" fill="#6cb0e6"/><text x="448.5" y="269.2" font-size="8.4" textLength="28.4" lengthAdjust="spacingAndGlyphs" fill="#1a1a1a" stroke="#1a1a1a" stroke-width="0.1">ΔCRS/Δt</text><line x1="483.3" y1="266.3" x2="491.3" y2="266.3" stroke="#e46ab6" stroke-width="1.35"/><rect x="485.88" y="264.88" width="2.85" height="2.85" fill="#cc1c86"/><text x="494.3" y="269.2" font-size="8.4" textLength="14.2" lengthAdjust="spacingAndGlyphs" fill="#1a1a1a" stroke="#1a1a1a" stroke-width="0.1">CRS</text></g>
<g><text x="7.8" y="305.1" font-size="11.5" font-weight="bold" fill="#000" stroke="#000" stroke-width="0.55">G</text><line x1="59.4" y1="351.5" x2="137.9" y2="351.5" stroke="#c6c6c6" stroke-width="1.0"/><line x1="63.8" y1="325.2" x2="63.8" y2="376.1" stroke="#d3e7c4" stroke-width="1.0"/><line x1="87.4" y1="325.2" x2="87.4" y2="376.1" stroke="#d3e7c4" stroke-width="1.0"/><polyline points="59.4,351.5 63.32,355.17 67.25,342 71.17,373.1 75.1,358.84 79.03,355.82 82.95,353.23 86.88,350.2 94.72,355.39 98.65,356.47 102.57,354.52 106.5,352.58 110.42,352.36 114.35,351.5 118.28,352.36 122.2,351.5" fill="none" stroke="#8d9098" stroke-width="0.85" stroke-linejoin="round"/><polyline points="59.4,351.5 63.32,340.86 67.25,356.82 71.17,351.5 75.1,351.5 79.03,346.18 82.95,356.82 86.88,340.86 90.8,346.18 94.72,351.5 98.65,351.5 102.57,362.14 106.5,351.5 110.42,351.5 114.35,351.5 118.28,351.5 122.2,351.5" fill="none" stroke="#9ccaee" stroke-width="0.85" stroke-linejoin="round"/><polyline points="59.4,351.5 63.32,340.86 67.25,346.18 71.17,346.18 75.1,346.18 79.03,340.86 82.95,346.18 86.88,335.54 90.8,330.22 94.72,330.22 98.65,330.22 102.57,340.86 106.5,340.86 110.42,340.86 114.35,340.86 118.28,340.86 122.2,340.86" fill="none" stroke="#e46ab6" stroke-width="1" stroke-linejoin="round"/><circle cx="59.4" cy="351.5" r="0.88" fill="#3c4357"/><circle cx="63.32" cy="355.17" r="0.88" fill="#3c4357"/><circle cx="67.25" cy="342" r="0.88" fill="#3c4357"/><circle cx="71.17" cy="373.1" r="0.88" fill="#3c4357"/><circle cx="75.1" cy="358.84" r="0.88" fill="#3c4357"/><circle cx="79.03" cy="355.82" r="0.88" fill="#3c4357"/><circle cx="82.95" cy="353.23" r="0.88" fill="#3c4357"/><circle cx="86.88" cy="350.2" r="0.88" fill="#3c4357"/><circle cx="94.72" cy="355.39" r="0.88" fill="#3c4357"/><circle cx="98.65" cy="356.47" r="0.88" fill="#3c4357"/><circle cx="102.57" cy="354.52" r="0.88" fill="#3c4357"/><circle cx="106.5" cy="352.58" r="0.88" fill="#3c4357"/><circle cx="110.42" cy="352.36" r="0.88" fill="#3c4357"/><circle cx="114.35" cy="351.5" r="0.88" fill="#3c4357"/><circle cx="118.28" cy="352.36" r="0.88" fill="#3c4357"/><circle cx="122.2" cy="351.5" r="0.88" fill="#3c4357"/><circle cx="90.8" cy="342.43" r="0.88" fill="#3c4357"/><path d="M59.4 350.62L60.27 352.2L58.52 352.2Z" fill="#6cb0e6"/><path d="M63.32 339.99L64.2 341.56L62.45 341.56Z" fill="#6cb0e6"/><path d="M67.25 355.94L68.12 357.52L66.38 357.52Z" fill="#6cb0e6"/><path d="M71.17 350.62L72.05 352.2L70.3 352.2Z" fill="#6cb0e6"/><path d="M75.1 350.62L75.97 352.2L74.22 352.2Z" fill="#6cb0e6"/><path d="M79.03 345.31L79.9 346.88L78.15 346.88Z" fill="#6cb0e6"/><path d="M82.95 355.94L83.82 357.52L82.07 357.52Z" fill="#6cb0e6"/><path d="M86.88 339.99L87.75 341.56L86 341.56Z" fill="#6cb0e6"/><path d="M90.8 345.31L91.67 346.88L89.92 346.88Z" fill="#6cb0e6"/><path d="M94.72 350.62L95.6 352.2L93.85 352.2Z" fill="#6cb0e6"/><path d="M98.65 350.62L99.53 352.2L97.78 352.2Z" fill="#6cb0e6"/><path d="M102.57 361.26L103.45 362.84L101.7 362.84Z" fill="#6cb0e6"/><path d="M106.5 350.62L107.38 352.2L105.62 352.2Z" fill="#6cb0e6"/><path d="M110.42 350.62L111.3 352.2L109.55 352.2Z" fill="#6cb0e6"/><path d="M114.35 350.62L115.22 352.2L113.47 352.2Z" fill="#6cb0e6"/><path d="M118.28 350.62L119.15 352.2L117.4 352.2Z" fill="#6cb0e6"/><path d="M122.2 350.62L123.07 352.2L121.32 352.2Z" fill="#6cb0e6"/><rect x="58.55" y="350.64" width="1.71" height="1.71" fill="#cc1c86"/><rect x="62.47" y="340" width="1.71" height="1.71" fill="#cc1c86"/><rect x="66.39" y="345.32" width="1.71" height="1.71" fill="#cc1c86"/><rect x="70.32" y="345.32" width="1.71" height="1.71" fill="#cc1c86"/><rect x="74.24" y="345.32" width="1.71" height="1.71" fill="#cc1c86"/><rect x="78.17" y="340" width="1.71" height="1.71" fill="#cc1c86"/><rect x="82.09" y="345.32" width="1.71" height="1.71" fill="#cc1c86"/><rect x="86.02" y="334.68" width="1.71" height="1.71" fill="#cc1c86"/><rect x="89.94" y="329.36" width="1.71" height="1.71" fill="#cc1c86"/><rect x="93.87" y="329.36" width="1.71" height="1.71" fill="#cc1c86"/><rect x="97.8" y="329.36" width="1.71" height="1.71" fill="#cc1c86"/><rect x="101.72" y="340" width="1.71" height="1.71" fill="#cc1c86"/><rect x="105.64" y="340" width="1.71" height="1.71" fill="#cc1c86"/><rect x="109.57" y="340" width="1.71" height="1.71" fill="#cc1c86"/><rect x="113.49" y="340" width="1.71" height="1.71" fill="#cc1c86"/><rect x="117.42" y="340" width="1.71" height="1.71" fill="#cc1c86"/><rect x="121.34" y="340" width="1.71" height="1.71" fill="#cc1c86"/><path d="M59.4 322.2V378.1H137.9V322.2" fill="none" stroke="#1a1a1a" stroke-width="1.1"/><line x1="56" y1="329.9" x2="59.4" y2="329.9" stroke="#1a1a1a" stroke-width="0.9"/><text x="53.9" y="332.5" font-size="9.5" text-anchor="end" textLength="4.6" lengthAdjust="spacingAndGlyphs" fill="#1a1a1a" stroke="#1a1a1a" stroke-width="0.1">5</text><line x1="56" y1="351.5" x2="59.4" y2="351.5" stroke="#1a1a1a" stroke-width="0.9"/><text x="53.9" y="354.1" font-size="9.5" text-anchor="end" textLength="4.6" lengthAdjust="spacingAndGlyphs" fill="#1a1a1a" stroke="#1a1a1a" stroke-width="0.1">0</text><line x1="56" y1="373.1" x2="59.4" y2="373.1" stroke="#1a1a1a" stroke-width="0.9"/><text x="53.9" y="375.7" font-size="9.5" text-anchor="end" textLength="4.6" lengthAdjust="spacingAndGlyphs" fill="#1a1a1a" stroke="#1a1a1a" stroke-width="0.1">5</text><rect x="47" y="373.2" width="1.9" height="0.95" fill="#1a1a1a"/><line x1="59.4" y1="378.1" x2="59.4" y2="380.9" stroke="#1a1a1a" stroke-width="0.9"/><text x="59.4" y="390.9" font-size="9.5" text-anchor="middle" textLength="4.6" lengthAdjust="spacingAndGlyphs" fill="#1a1a1a" stroke="#1a1a1a" stroke-width="0.1">0</text><line x1="79.03" y1="378.1" x2="79.03" y2="380.9" stroke="#1a1a1a" stroke-width="0.9"/><text x="79.03" y="390.9" font-size="9.5" text-anchor="middle" textLength="4.6" lengthAdjust="spacingAndGlyphs" fill="#1a1a1a" stroke="#1a1a1a" stroke-width="0.1">5</text><line x1="98.65" y1="378.1" x2="98.65" y2="380.9" stroke="#1a1a1a" stroke-width="0.9"/><text x="98.65" y="390.9" font-size="9.5" text-anchor="middle" textLength="9.19" lengthAdjust="spacingAndGlyphs" fill="#1a1a1a" stroke="#1a1a1a" stroke-width="0.1">10</text><line x1="118.28" y1="378.1" x2="118.28" y2="380.9" stroke="#1a1a1a" stroke-width="0.9"/><text x="118.28" y="390.9" font-size="9.5" text-anchor="middle" textLength="9.19" lengthAdjust="spacingAndGlyphs" fill="#1a1a1a" stroke="#1a1a1a" stroke-width="0.1">15</text><line x1="137.9" y1="378.1" x2="137.9" y2="380.9" stroke="#1a1a1a" stroke-width="0.9"/><text x="137.9" y="390.9" font-size="9.5" text-anchor="middle" textLength="9.19" lengthAdjust="spacingAndGlyphs" fill="#1a1a1a" stroke="#1a1a1a" stroke-width="0.1">20</text><line x1="137.9" y1="378.1" x2="140.9" y2="378.1" stroke="#1a1a1a" stroke-width="0.8"/><rect x="144.1" y="378.2" width="1.9" height="0.95" fill="#1a1a1a"/><text x="146.5" y="380.9" font-size="9.5" textLength="4.6" lengthAdjust="spacingAndGlyphs" fill="#1a1a1a" stroke="#1a1a1a" stroke-width="0.1">5</text><line x1="137.9" y1="372.78" x2="139.5" y2="372.78" stroke="#1a1a1a" stroke-width="0.8"/><line x1="137.9" y1="367.46" x2="139.5" y2="367.46" stroke="#1a1a1a" stroke-width="0.8"/><line x1="137.9" y1="362.14" x2="139.5" y2="362.14" stroke="#1a1a1a" stroke-width="0.8"/><line x1="137.9" y1="356.82" x2="139.5" y2="356.82" stroke="#1a1a1a" stroke-width="0.8"/><line x1="137.9" y1="351.5" x2="140.9" y2="351.5" stroke="#1a1a1a" stroke-width="0.8"/><text x="144.2" y="354.3" font-size="9.5" textLength="4.6" lengthAdjust="spacingAndGlyphs" fill="#1a1a1a" stroke="#1a1a1a" stroke-width="0.1">0</text><line x1="137.9" y1="346.18" x2="139.5" y2="346.18" stroke="#1a1a1a" stroke-width="0.8"/><line x1="137.9" y1="340.86" x2="139.5" y2="340.86" stroke="#1a1a1a" stroke-width="0.8"/><line x1="137.9" y1="335.54" x2="139.5" y2="335.54" stroke="#1a1a1a" stroke-width="0.8"/><line x1="137.9" y1="330.22" x2="139.5" y2="330.22" stroke="#1a1a1a" stroke-width="0.8"/><line x1="137.9" y1="324.9" x2="140.9" y2="324.9" stroke="#1a1a1a" stroke-width="0.8"/><text x="144.2" y="327.7" font-size="9.5" textLength="4.6" lengthAdjust="spacingAndGlyphs" fill="#1a1a1a" stroke="#1a1a1a" stroke-width="0.1">5</text><text x="98.65" y="404.4" font-size="10.6" text-anchor="middle" textLength="35.4" lengthAdjust="spacingAndGlyphs" fill="#1a1a1a" stroke="#1a1a1a" stroke-width="0.1">Time (day)</text><text x="88.6" y="317.8" font-size="8.8" textLength="15.7" lengthAdjust="spacingAndGlyphs" fill="#1a1a1a" stroke="#1a1a1a" stroke-width="0.1">CRP</text><text x="106.05" y="317.75" font-size="7" text-anchor="middle" fill="#1a1a1a" stroke="#1a1a1a" stroke-width="0.35">*</text><text x="109.7" y="317.75" font-size="7" text-anchor="middle" fill="#1a1a1a" stroke="#1a1a1a" stroke-width="0.35">*</text><text x="113.35" y="317.75" font-size="7" text-anchor="middle" fill="#1a1a1a" stroke="#1a1a1a" stroke-width="0.35">*</text><text transform="translate(29.7,351.2) rotate(-90)" x="0" y="0" font-size="10" text-anchor="middle" fill="#1a1a1a" stroke="#1a1a1a" stroke-width="0.1" textLength="62.4" lengthAdjust="spacingAndGlyphs">Concentration rate</text><text transform="translate(41.3,351.2) rotate(-90)" x="0" y="0" font-size="10" text-anchor="middle" fill="#1a1a1a" stroke="#1a1a1a" stroke-width="0.1" textLength="63.6" lengthAdjust="spacingAndGlyphs">Δc/Δt (mg/dL/day)</text><text transform="translate(156.5,310.3) rotate(90)" x="0" y="0" font-size="10" fill="#c2334f" stroke="#c2334f" stroke-width="0.1" textLength="14.1" lengthAdjust="spacingAndGlyphs">CRS</text><text transform="translate(156.5,325.9) rotate(90)" x="0" y="0" font-size="10" fill="#c2334f" stroke="#c2334f" stroke-width="0.1" textLength="20.3" lengthAdjust="spacingAndGlyphs">grade</text><text transform="translate(156.5,347.4) rotate(90)" x="0" y="0" font-size="10" fill="#1a1a1a" stroke="#1a1a1a" stroke-width="0.1" textLength="13.2" lengthAdjust="spacingAndGlyphs">and</text><text transform="translate(156.5,362.2) rotate(90)" x="0" y="0" font-size="10" fill="#4d7c62" stroke="#4d7c62" stroke-width="0.1" textLength="29.85" lengthAdjust="spacingAndGlyphs">ΔCRS/Δt</text><line x1="46.6" y1="416.5" x2="54.6" y2="416.5" stroke="#8d9098" stroke-width="1.35"/><circle cx="50.6" cy="416.5" r="1.67" fill="#3c4357"/><text x="57.3" y="419.4" font-size="8.4" textLength="15" lengthAdjust="spacingAndGlyphs" fill="#1a1a1a" stroke="#1a1a1a" stroke-width="0.1">CRP</text><line x1="77.2" y1="416.5" x2="85.2" y2="416.5" stroke="#9ccaee" stroke-width="1.35"/><path d="M81.2 414.62L83.08 418L79.33 418Z" fill="#6cb0e6"/><text x="88.5" y="419.4" font-size="8.4" textLength="27.7" lengthAdjust="spacingAndGlyphs" fill="#1a1a1a" stroke="#1a1a1a" stroke-width="0.1">ΔCRS/Δt</text><line x1="123.4" y1="416.5" x2="131.4" y2="416.5" stroke="#e46ab6" stroke-width="1.35"/><rect x="125.98" y="415.07" width="2.85" height="2.85" fill="#cc1c86"/><text x="134.7" y="419.4" font-size="8.4" textLength="13.8" lengthAdjust="spacingAndGlyphs" fill="#1a1a1a" stroke="#1a1a1a" stroke-width="0.1">CRS</text></g>
<g><text x="178.6" y="305.1" font-size="11.5" font-weight="bold" fill="#000" stroke="#000" stroke-width="0.55">H</text><line x1="234.5" y1="352.7" x2="310" y2="352.7" stroke="#c6c6c6" stroke-width="1.0"/><line x1="237.6" y1="327.6" x2="237.6" y2="376.1" stroke="#d3e7c4" stroke-width="1.0"/><line x1="261.4" y1="327.6" x2="261.4" y2="376.1" stroke="#d3e7c4" stroke-width="1.0"/><polyline points="234.5,352.7 238.28,352.7 242.05,352.19 245.82,352.7 249.6,352.7 253.38,352.7 257.15,352.7 260.93,350.32 264.7,331.79 268.48,355.42 272.25,355.93 276.02,362.73 279.8,356.95 283.57,355.76 287.35,353.38 291.12,351.17 294.9,351.85" fill="none" stroke="#8d9098" stroke-width="0.85" stroke-linejoin="round"/><polyline points="234.5,352.7 238.28,342.54 242.05,357.78 245.82,352.7 249.6,352.7 253.38,347.62 257.15,357.78 260.93,342.54 264.7,347.62 268.48,352.7 272.25,352.7 276.02,362.86 279.8,352.7 283.57,352.7 287.35,352.7 291.12,352.7 294.9,352.7" fill="none" stroke="#9ccaee" stroke-width="0.85" stroke-linejoin="round"/><polyline points="234.5,352.7 238.28,342.54 242.05,347.62 245.82,347.62 249.6,347.62 253.38,342.54 257.15,347.62 260.93,337.46 264.7,332.38 268.48,332.38 272.25,332.38 276.02,342.54 279.8,342.54 283.57,342.54 287.35,342.54 291.12,342.54 294.9,342.54" fill="none" stroke="#e46ab6" stroke-width="1" stroke-linejoin="round"/><circle cx="234.5" cy="352.7" r="0.88" fill="#3c4357"/><circle cx="238.28" cy="352.7" r="0.88" fill="#3c4357"/><circle cx="242.05" cy="352.19" r="0.88" fill="#3c4357"/><circle cx="245.82" cy="352.7" r="0.88" fill="#3c4357"/><circle cx="249.6" cy="352.7" r="0.88" fill="#3c4357"/><circle cx="253.38" cy="352.7" r="0.88" fill="#3c4357"/><circle cx="257.15" cy="352.7" r="0.88" fill="#3c4357"/><circle cx="260.93" cy="350.32" r="0.88" fill="#3c4357"/><circle cx="264.7" cy="331.79" r="0.88" fill="#3c4357"/><circle cx="268.48" cy="355.42" r="0.88" fill="#3c4357"/><circle cx="272.25" cy="355.93" r="0.88" fill="#3c4357"/><circle cx="276.02" cy="362.73" r="0.88" fill="#3c4357"/><circle cx="279.8" cy="356.95" r="0.88" fill="#3c4357"/><circle cx="283.57" cy="355.76" r="0.88" fill="#3c4357"/><circle cx="287.35" cy="353.38" r="0.88" fill="#3c4357"/><circle cx="291.12" cy="351.17" r="0.88" fill="#3c4357"/><circle cx="294.9" cy="351.85" r="0.88" fill="#3c4357"/><path d="M234.5 351.82L235.38 353.4L233.62 353.4Z" fill="#6cb0e6"/><path d="M238.28 341.66L239.15 343.24L237.4 343.24Z" fill="#6cb0e6"/><path d="M242.05 356.9L242.93 358.48L241.18 358.48Z" fill="#6cb0e6"/><path d="M245.82 351.82L246.7 353.4L244.95 353.4Z" fill="#6cb0e6"/><path d="M249.6 351.82L250.47 353.4L248.72 353.4Z" fill="#6cb0e6"/><path d="M253.38 346.75L254.25 348.32L252.5 348.32Z" fill="#6cb0e6"/><path d="M257.15 356.9L258.02 358.48L256.27 358.48Z" fill="#6cb0e6"/><path d="M260.93 341.66L261.8 343.24L260.05 343.24Z" fill="#6cb0e6"/><path d="M264.7 346.75L265.57 348.32L263.82 348.32Z" fill="#6cb0e6"/><path d="M268.48 351.82L269.35 353.4L267.6 353.4Z" fill="#6cb0e6"/><path d="M272.25 351.82L273.12 353.4L271.38 353.4Z" fill="#6cb0e6"/><path d="M276.02 361.99L276.9 363.56L275.15 363.56Z" fill="#6cb0e6"/><path d="M279.8 351.82L280.68 353.4L278.93 353.4Z" fill="#6cb0e6"/><path d="M283.57 351.82L284.45 353.4L282.7 353.4Z" fill="#6cb0e6"/><path d="M287.35 351.82L288.23 353.4L286.48 353.4Z" fill="#6cb0e6"/><path d="M291.12 351.82L292 353.4L290.25 353.4Z" fill="#6cb0e6"/><path d="M294.9 351.82L295.77 353.4L294.02 353.4Z" fill="#6cb0e6"/><rect x="233.65" y="351.84" width="1.71" height="1.71" fill="#cc1c86"/><rect x="237.42" y="341.68" width="1.71" height="1.71" fill="#cc1c86"/><rect x="241.2" y="346.76" width="1.71" height="1.71" fill="#cc1c86"/><rect x="244.97" y="346.76" width="1.71" height="1.71" fill="#cc1c86"/><rect x="248.75" y="346.76" width="1.71" height="1.71" fill="#cc1c86"/><rect x="252.52" y="341.68" width="1.71" height="1.71" fill="#cc1c86"/><rect x="256.29" y="346.76" width="1.71" height="1.71" fill="#cc1c86"/><rect x="260.07" y="336.6" width="1.71" height="1.71" fill="#cc1c86"/><rect x="263.84" y="331.52" width="1.71" height="1.71" fill="#cc1c86"/><rect x="267.62" y="331.52" width="1.71" height="1.71" fill="#cc1c86"/><rect x="271.39" y="331.52" width="1.71" height="1.71" fill="#cc1c86"/><rect x="275.17" y="341.68" width="1.71" height="1.71" fill="#cc1c86"/><rect x="278.94" y="341.68" width="1.71" height="1.71" fill="#cc1c86"/><rect x="282.72" y="341.68" width="1.71" height="1.71" fill="#cc1c86"/><rect x="286.5" y="341.68" width="1.71" height="1.71" fill="#cc1c86"/><rect x="290.27" y="341.68" width="1.71" height="1.71" fill="#cc1c86"/><rect x="294.04" y="341.68" width="1.71" height="1.71" fill="#cc1c86"/><path d="M234.5 324.6V378.1H310V324.6" fill="none" stroke="#1a1a1a" stroke-width="1.1"/><line x1="231.1" y1="327.2" x2="234.5" y2="327.2" stroke="#1a1a1a" stroke-width="0.9"/><text x="229" y="329.8" font-size="9.5" text-anchor="end" textLength="22.98" lengthAdjust="spacingAndGlyphs" fill="#1a1a1a" stroke="#1a1a1a" stroke-width="0.1">15000</text><line x1="231.1" y1="335.7" x2="234.5" y2="335.7" stroke="#1a1a1a" stroke-width="0.9"/><text x="229" y="338.3" font-size="9.5" text-anchor="end" textLength="22.98" lengthAdjust="spacingAndGlyphs" fill="#1a1a1a" stroke="#1a1a1a" stroke-width="0.1">10000</text><line x1="231.1" y1="344.2" x2="234.5" y2="344.2" stroke="#1a1a1a" stroke-width="0.9"/><text x="229" y="346.8" font-size="9.5" text-anchor="end" textLength="18.38" lengthAdjust="spacingAndGlyphs" fill="#1a1a1a" stroke="#1a1a1a" stroke-width="0.1">5000</text><line x1="231.1" y1="352.7" x2="234.5" y2="352.7" stroke="#1a1a1a" stroke-width="0.9"/><text x="229" y="355.3" font-size="9.5" text-anchor="end" textLength="4.6" lengthAdjust="spacingAndGlyphs" fill="#1a1a1a" stroke="#1a1a1a" stroke-width="0.1">0</text><line x1="231.1" y1="361.2" x2="234.5" y2="361.2" stroke="#1a1a1a" stroke-width="0.9"/><text x="229" y="363.8" font-size="9.5" text-anchor="end" textLength="18.38" lengthAdjust="spacingAndGlyphs" fill="#1a1a1a" stroke="#1a1a1a" stroke-width="0.1">5000</text><rect x="208.32" y="361.3" width="1.9" height="0.95" fill="#1a1a1a"/><line x1="231.1" y1="369.7" x2="234.5" y2="369.7" stroke="#1a1a1a" stroke-width="0.9"/><text x="229" y="372.3" font-size="9.5" text-anchor="end" textLength="22.98" lengthAdjust="spacingAndGlyphs" fill="#1a1a1a" stroke="#1a1a1a" stroke-width="0.1">10000</text><rect x="203.72" y="369.8" width="1.9" height="0.95" fill="#1a1a1a"/><line x1="231.1" y1="378.2" x2="234.5" y2="378.2" stroke="#1a1a1a" stroke-width="0.9"/><text x="229" y="380.8" font-size="9.5" text-anchor="end" textLength="22.98" lengthAdjust="spacingAndGlyphs" fill="#1a1a1a" stroke="#1a1a1a" stroke-width="0.1">15000</text><rect x="203.72" y="378.3" width="1.9" height="0.95" fill="#1a1a1a"/><line x1="234.5" y1="378.1" x2="234.5" y2="380.9" stroke="#1a1a1a" stroke-width="0.9"/><text x="234.5" y="390.9" font-size="9.5" text-anchor="middle" textLength="4.6" lengthAdjust="spacingAndGlyphs" fill="#1a1a1a" stroke="#1a1a1a" stroke-width="0.1">0</text><line x1="253.38" y1="378.1" x2="253.38" y2="380.9" stroke="#1a1a1a" stroke-width="0.9"/><text x="253.38" y="390.9" font-size="9.5" text-anchor="middle" textLength="4.6" lengthAdjust="spacingAndGlyphs" fill="#1a1a1a" stroke="#1a1a1a" stroke-width="0.1">5</text><line x1="272.25" y1="378.1" x2="272.25" y2="380.9" stroke="#1a1a1a" stroke-width="0.9"/><text x="272.25" y="390.9" font-size="9.5" text-anchor="middle" textLength="9.19" lengthAdjust="spacingAndGlyphs" fill="#1a1a1a" stroke="#1a1a1a" stroke-width="0.1">10</text><line x1="291.12" y1="378.1" x2="291.12" y2="380.9" stroke="#1a1a1a" stroke-width="0.9"/><text x="291.12" y="390.9" font-size="9.5" text-anchor="middle" textLength="9.19" lengthAdjust="spacingAndGlyphs" fill="#1a1a1a" stroke="#1a1a1a" stroke-width="0.1">15</text><line x1="310" y1="378.1" x2="310" y2="380.9" stroke="#1a1a1a" stroke-width="0.9"/><text x="310" y="390.9" font-size="9.5" text-anchor="middle" textLength="9.19" lengthAdjust="spacingAndGlyphs" fill="#1a1a1a" stroke="#1a1a1a" stroke-width="0.1">20</text><line x1="310" y1="378.1" x2="313" y2="378.1" stroke="#1a1a1a" stroke-width="0.8"/><rect x="316.2" y="378.2" width="1.9" height="0.95" fill="#1a1a1a"/><text x="318.6" y="380.9" font-size="9.5" textLength="4.6" lengthAdjust="spacingAndGlyphs" fill="#1a1a1a" stroke="#1a1a1a" stroke-width="0.1">5</text><line x1="310" y1="373.02" x2="311.6" y2="373.02" stroke="#1a1a1a" stroke-width="0.8"/><line x1="310" y1="367.94" x2="311.6" y2="367.94" stroke="#1a1a1a" stroke-width="0.8"/><line x1="310" y1="362.86" x2="311.6" y2="362.86" stroke="#1a1a1a" stroke-width="0.8"/><line x1="310" y1="357.78" x2="311.6" y2="357.78" stroke="#1a1a1a" stroke-width="0.8"/><line x1="310" y1="352.7" x2="313" y2="352.7" stroke="#1a1a1a" stroke-width="0.8"/><text x="316.3" y="355.5" font-size="9.5" textLength="4.6" lengthAdjust="spacingAndGlyphs" fill="#1a1a1a" stroke="#1a1a1a" stroke-width="0.1">0</text><line x1="310" y1="347.62" x2="311.6" y2="347.62" stroke="#1a1a1a" stroke-width="0.8"/><line x1="310" y1="342.54" x2="311.6" y2="342.54" stroke="#1a1a1a" stroke-width="0.8"/><line x1="310" y1="337.46" x2="311.6" y2="337.46" stroke="#1a1a1a" stroke-width="0.8"/><line x1="310" y1="332.38" x2="311.6" y2="332.38" stroke="#1a1a1a" stroke-width="0.8"/><line x1="310" y1="327.3" x2="313" y2="327.3" stroke="#1a1a1a" stroke-width="0.8"/><text x="316.3" y="330.1" font-size="9.5" textLength="4.6" lengthAdjust="spacingAndGlyphs" fill="#1a1a1a" stroke="#1a1a1a" stroke-width="0.1">5</text><text x="272.25" y="404.4" font-size="10.6" text-anchor="middle" textLength="35.4" lengthAdjust="spacingAndGlyphs" fill="#1a1a1a" stroke="#1a1a1a" stroke-width="0.1">Time (day)</text><text x="257.1" y="318" font-size="8.8" textLength="26.4" lengthAdjust="spacingAndGlyphs" fill="#1a1a1a" stroke="#1a1a1a" stroke-width="0.1">Ferritin</text><text x="283.3" y="315" font-size="6" textLength="6.4" lengthAdjust="spacingAndGlyphs" fill="#1a1a1a" stroke="#1a1a1a" stroke-width="0.1">ns</text><text transform="translate(186.6,352.4) rotate(-90)" x="0" y="0" font-size="10" text-anchor="middle" fill="#1a1a1a" stroke="#1a1a1a" stroke-width="0.1" textLength="62.4" lengthAdjust="spacingAndGlyphs">Concentration rate</text><text transform="translate(198.2,352.4) rotate(-90)" x="0" y="0" font-size="10" text-anchor="middle" fill="#1a1a1a" stroke="#1a1a1a" stroke-width="0.1" textLength="63.6" lengthAdjust="spacingAndGlyphs">Δc/Δt (pg/mL/day)</text><text transform="translate(328.6,311.5) rotate(90)" x="0" y="0" font-size="10" fill="#c2334f" stroke="#c2334f" stroke-width="0.1" textLength="14.1" lengthAdjust="spacingAndGlyphs">CRS</text><text transform="translate(328.6,327.1) rotate(90)" x="0" y="0" font-size="10" fill="#c2334f" stroke="#c2334f" stroke-width="0.1" textLength="20.3" lengthAdjust="spacingAndGlyphs">grade</text><text transform="translate(328.6,348.6) rotate(90)" x="0" y="0" font-size="10" fill="#1a1a1a" stroke="#1a1a1a" stroke-width="0.1" textLength="13.2" lengthAdjust="spacingAndGlyphs">and</text><text transform="translate(328.6,363.4) rotate(90)" x="0" y="0" font-size="10" fill="#4d7c62" stroke="#4d7c62" stroke-width="0.1" textLength="29.85" lengthAdjust="spacingAndGlyphs">ΔCRS/Δt</text><line x1="217" y1="416.5" x2="225" y2="416.5" stroke="#8d9098" stroke-width="1.35"/><circle cx="221" cy="416.5" r="1.67" fill="#3c4357"/><text x="228" y="419.4" font-size="8.4" textLength="24" lengthAdjust="spacingAndGlyphs" fill="#1a1a1a" stroke="#1a1a1a" stroke-width="0.1">Ferritin</text><line x1="257.3" y1="416.5" x2="265.3" y2="416.5" stroke="#9ccaee" stroke-width="1.35"/><path d="M261.3 414.62L263.18 418L259.43 418Z" fill="#6cb0e6"/><text x="268.2" y="419.4" font-size="8.4" textLength="29.6" lengthAdjust="spacingAndGlyphs" fill="#1a1a1a" stroke="#1a1a1a" stroke-width="0.1">ΔCRS/Δt</text><line x1="303.5" y1="416.5" x2="311.5" y2="416.5" stroke="#e46ab6" stroke-width="1.35"/><rect x="306.07" y="415.07" width="2.85" height="2.85" fill="#cc1c86"/><text x="315.2" y="419.4" font-size="8.4" textLength="13.7" lengthAdjust="spacingAndGlyphs" fill="#1a1a1a" stroke="#1a1a1a" stroke-width="0.1">CRS</text></g>
<rect x="0.5" y="0.5" width="519" height="447" fill="none" stroke="#000" stroke-width="1.2"/>
</svg>
</body></html>
